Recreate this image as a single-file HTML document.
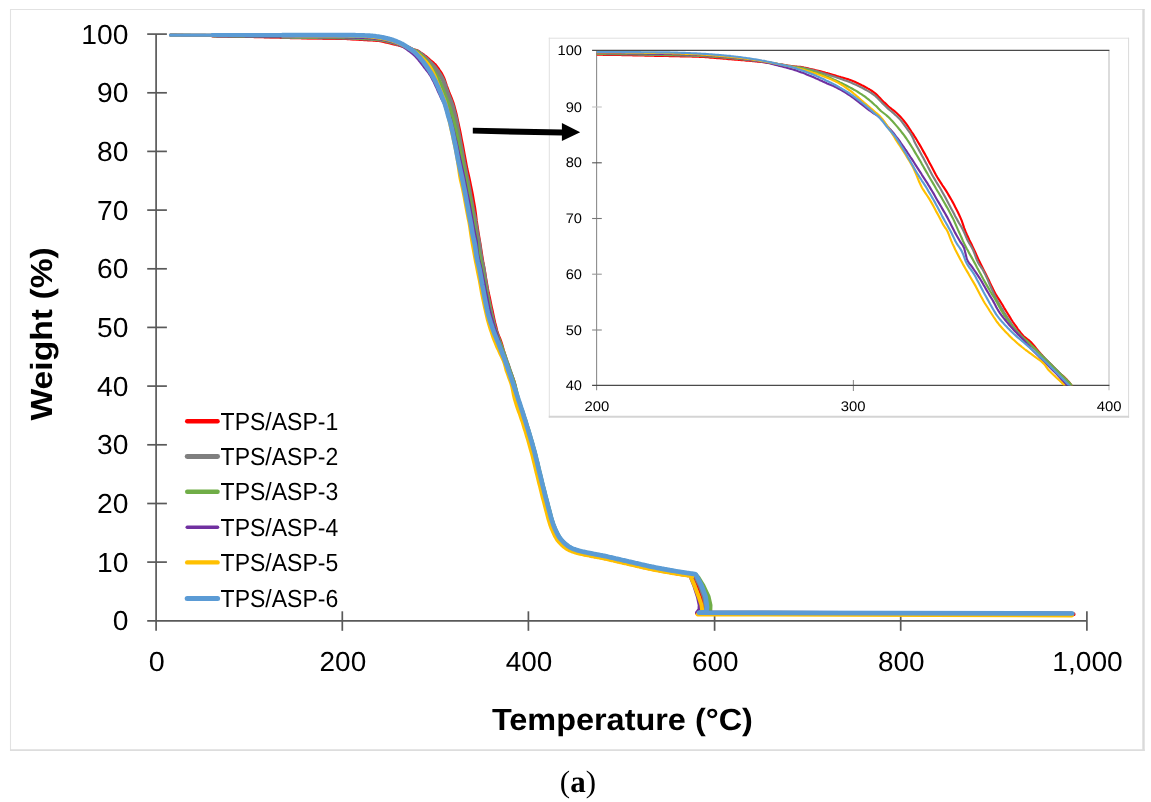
<!DOCTYPE html>
<html><head><meta charset="utf-8"><title>TGA</title>
<style>html,body{margin:0;padding:0;background:#fff;}body{width:1151px;height:802px;overflow:hidden;position:relative;font-family:"Liberation Sans",sans-serif;}</style></head>
<body>
<svg width="1151" height="802" viewBox="0 0 1151 802" text-rendering="geometricPrecision" style="position:absolute;left:0;top:0;display:block;will-change:transform">
<defs><clipPath id="ic"><rect x="596.5" y="50" width="513" height="335.4"/></clipPath></defs>
<rect x="0" y="0" width="1151" height="802" fill="#fff"/>
<line x1="10" y1="9.45" x2="1144.7" y2="9.45" stroke="#E2E2E2" stroke-width="1.1"/>
<line x1="10.5" y1="9" x2="10.5" y2="750.9" stroke="#E2E2E2" stroke-width="1.1"/>
<line x1="1143.5" y1="9" x2="1143.5" y2="750.9" stroke="#DADADA" stroke-width="2.4"/>
<line x1="10" y1="750.05" x2="1144.7" y2="750.05" stroke="#DDDDDD" stroke-width="1.7"/>
<g stroke="#595959" stroke-width="1.7" fill="none">
<line x1="156.1" y1="34.1" x2="156.1" y2="630.8"/>
<line x1="147.2" y1="620.8" x2="1086.9" y2="620.8"/>
<line x1="147.2" y1="562.1" x2="166.9" y2="562.1"/>
<line x1="147.2" y1="503.5" x2="166.9" y2="503.5"/>
<line x1="147.2" y1="444.8" x2="166.9" y2="444.8"/>
<line x1="147.2" y1="386.1" x2="166.9" y2="386.1"/>
<line x1="147.2" y1="327.4" x2="166.9" y2="327.4"/>
<line x1="147.2" y1="268.8" x2="166.9" y2="268.8"/>
<line x1="147.2" y1="210.1" x2="166.9" y2="210.1"/>
<line x1="147.2" y1="151.4" x2="166.9" y2="151.4"/>
<line x1="147.2" y1="92.8" x2="166.9" y2="92.8"/>
<line x1="147.2" y1="34.1" x2="166.9" y2="34.1"/>
<line x1="342.3" y1="611.3" x2="342.3" y2="630.8"/>
<line x1="528.4" y1="611.3" x2="528.4" y2="630.8"/>
<line x1="714.6" y1="611.3" x2="714.6" y2="630.8"/>
<line x1="900.7" y1="611.3" x2="900.7" y2="630.8"/>
<line x1="1086.9" y1="611.3" x2="1086.9" y2="630.8"/>
</g>
<g font-family="'Liberation Sans', sans-serif" font-size="27.5" fill="#000">
<text x="128.4" y="630.3" text-anchor="end" textLength="15.7" lengthAdjust="spacingAndGlyphs">0</text>
<text x="128.4" y="571.6" text-anchor="end" textLength="31.4" lengthAdjust="spacingAndGlyphs">10</text>
<text x="128.4" y="513.0" text-anchor="end" textLength="31.4" lengthAdjust="spacingAndGlyphs">20</text>
<text x="128.4" y="454.3" text-anchor="end" textLength="31.4" lengthAdjust="spacingAndGlyphs">30</text>
<text x="128.4" y="395.6" text-anchor="end" textLength="31.4" lengthAdjust="spacingAndGlyphs">40</text>
<text x="128.4" y="336.9" text-anchor="end" textLength="31.4" lengthAdjust="spacingAndGlyphs">50</text>
<text x="128.4" y="278.3" text-anchor="end" textLength="31.4" lengthAdjust="spacingAndGlyphs">60</text>
<text x="128.4" y="219.6" text-anchor="end" textLength="31.4" lengthAdjust="spacingAndGlyphs">70</text>
<text x="128.4" y="160.9" text-anchor="end" textLength="31.4" lengthAdjust="spacingAndGlyphs">80</text>
<text x="128.4" y="102.3" text-anchor="end" textLength="31.4" lengthAdjust="spacingAndGlyphs">90</text>
<text x="128.4" y="43.6" text-anchor="end" textLength="47.1" lengthAdjust="spacingAndGlyphs">100</text>
<text x="156.7" y="671.3" text-anchor="middle" textLength="16.0" lengthAdjust="spacingAndGlyphs">0</text>
<text x="342.9" y="671.3" text-anchor="middle" textLength="46.6" lengthAdjust="spacingAndGlyphs">200</text>
<text x="529.0" y="671.3" text-anchor="middle" textLength="46.6" lengthAdjust="spacingAndGlyphs">400</text>
<text x="715.2" y="671.3" text-anchor="middle" textLength="46.6" lengthAdjust="spacingAndGlyphs">600</text>
<text x="901.3" y="671.3" text-anchor="middle" textLength="46.6" lengthAdjust="spacingAndGlyphs">800</text>
<text x="1087.5" y="671.3" text-anchor="middle" textLength="70.5" lengthAdjust="spacingAndGlyphs">1,000</text>
</g>
<g font-family="'Liberation Sans', sans-serif" font-weight="bold" font-size="30.6" fill="#000">
<text x="491.9" y="730.3" textLength="261" lengthAdjust="spacingAndGlyphs">Temperature (°C)</text>
<text transform="translate(51.8,420.6) rotate(-90)" x="0" y="0" textLength="173.4" lengthAdjust="spacingAndGlyphs">Weight (%)</text>
</g>
<g fill="none" stroke-linejoin="round" stroke-linecap="round">
<path d="M170.5,35.1 L171.5,35.1 L172.4,35.1 L173.3,35.1 L174.3,35.1 L175.2,35.2 L176.1,35.2 L177.0,35.2 L178.0,35.2 L178.9,35.2 L179.8,35.2 L180.8,35.2 L181.7,35.2 L182.6,35.2 L183.6,35.3 L184.5,35.3 L185.4,35.3 L186.4,35.3 L187.3,35.3 L188.2,35.3 L189.1,35.3 L190.1,35.3 L191.0,35.4 L191.9,35.4 L192.9,35.4 L193.8,35.4 L194.7,35.4 L195.7,35.4 L196.6,35.4 L197.5,35.5 L198.5,35.5 L199.4,35.5 L200.3,35.5 L201.2,35.5 L202.2,35.5 L203.1,35.5 L204.0,35.6 L205.0,35.6 L205.9,35.6 L206.8,35.6 L207.8,35.6 L208.7,35.6 L209.6,35.6 L210.6,35.7 L211.5,35.7 L212.4,35.7 L213.3,35.7 L214.3,35.7 L215.2,35.7 L216.1,35.7 L217.1,35.8 L218.0,35.8 L218.9,35.8 L219.9,35.8 L220.8,35.8 L221.7,35.8 L222.7,35.9 L223.6,35.9 L224.5,35.9 L225.4,35.9 L226.4,35.9 L227.3,35.9 L228.2,36.0 L229.2,36.0 L230.1,36.0 L231.0,36.0 L232.0,36.0 L232.9,36.1 L233.8,36.1 L234.8,36.1 L235.7,36.1 L236.6,36.1 L237.5,36.1 L238.5,36.2 L239.4,36.2 L240.3,36.2 L241.3,36.2 L242.2,36.2 L243.1,36.3 L244.1,36.3 L245.0,36.3 L245.9,36.3 L246.9,36.3 L247.8,36.3 L248.7,36.4 L249.6,36.4 L250.6,36.4 L251.5,36.4 L252.4,36.4 L253.4,36.4 L254.3,36.5 L255.2,36.5 L256.2,36.5 L257.1,36.5 L258.0,36.5 L259.0,36.6 L259.9,36.6 L260.8,36.6 L261.7,36.6 L262.7,36.6 L263.6,36.6 L264.5,36.7 L265.5,36.7 L266.4,36.7 L267.3,36.7 L268.3,36.7 L269.2,36.7 L270.1,36.8 L271.1,36.8 L272.0,36.8 L272.9,36.8 L273.8,36.8 L274.8,36.9 L275.7,36.9 L276.6,36.9 L277.6,36.9 L278.5,36.9 L279.4,36.9 L280.4,37.0 L281.3,37.0" stroke="#FF0000" stroke-width="2.80"/>
<path d="M212.4,35.7 L213.3,35.7 L214.3,35.7 L215.2,35.7 L216.1,35.7 L217.1,35.8 L218.0,35.8 L218.9,35.8 L219.9,35.8 L220.8,35.8 L221.7,35.8 L222.7,35.9 L223.6,35.9 L224.5,35.9 L225.4,35.9 L226.4,35.9 L227.3,35.9 L228.2,36.0 L229.2,36.0 L230.1,36.0 L231.0,36.0 L232.0,36.0 L232.9,36.1 L233.8,36.1 L234.8,36.1 L235.7,36.1 L236.6,36.1 L237.5,36.1 L238.5,36.2 L239.4,36.2 L240.3,36.2 L241.3,36.2 L242.2,36.2 L243.1,36.3 L244.1,36.3 L245.0,36.3 L245.9,36.3 L246.9,36.3 L247.8,36.3 L248.7,36.4 L249.6,36.4 L250.6,36.4 L251.5,36.4 L252.4,36.4 L253.4,36.4 L254.3,36.5 L255.2,36.5 L256.2,36.5 L257.1,36.5 L258.0,36.5 L259.0,36.6 L259.9,36.6 L260.8,36.6 L261.7,36.6 L262.7,36.6 L263.6,36.6 L264.5,36.7 L265.5,36.7 L266.4,36.7 L267.3,36.7 L268.3,36.7 L269.2,36.7 L270.1,36.8 L271.1,36.8 L272.0,36.8 L272.9,36.8 L273.8,36.8 L274.8,36.9 L275.7,36.9 L276.6,36.9 L277.6,36.9 L278.5,36.9 L279.4,36.9 L280.4,37.0 L281.3,37.0 L282.2,37.0 L283.2,37.0 L284.1,37.0 L285.0,37.1 L285.9,37.1 L286.9,37.1 L287.8,37.1 L288.7,37.1 L289.7,37.1 L290.6,37.2 L291.5,37.2 L292.5,37.2 L293.4,37.2 L294.3,37.2 L295.3,37.2 L296.2,37.3 L297.1,37.3 L298.0,37.3 L299.0,37.3 L299.9,37.3 L300.8,37.3 L301.8,37.4 L302.7,37.4 L303.6,37.4 L304.6,37.4 L305.5,37.4 L306.4,37.4 L307.4,37.5 L308.3,37.5 L309.2,37.5 L310.1,37.5 L311.1,37.5 L312.0,37.5 L312.9,37.5 L313.9,37.5 L314.8,37.6 L315.7,37.6 L316.7,37.6 L317.6,37.6 L318.5,37.6 L319.5,37.6 L320.4,37.6 L321.3,37.6 L322.2,37.6 L323.2,37.7 L324.1,37.7 L325.0,37.7 L326.0,37.7 L326.9,37.7 L327.8,37.7 L328.8,37.7 L329.7,37.7 L330.6,37.8 L331.6,37.8 L332.5,37.8 L333.4,37.8 L334.3,37.8 L335.3,37.8 L336.2,37.9 L337.1,37.9 L338.1,37.9 L339.0,37.9 L339.9,37.9 L340.9,38.0 L341.8,38.0 L342.7,38.0 L343.7,38.0 L344.6,38.1 L345.5,38.1 L346.4,38.1 L347.4,38.2 L348.3,38.2 L349.2,38.3 L350.2,38.3 L351.1,38.4 L352.0,38.4 L353.0,38.5 L353.9,38.5 L354.8,38.6 L355.8,38.6" stroke="#FF0000" stroke-width="3.40"/>
<path d="M282.2,37.0 L283.2,37.0 L284.1,37.0 L285.0,37.1 L285.9,37.1 L286.9,37.1 L287.8,37.1 L288.7,37.1 L289.7,37.1 L290.6,37.2 L291.5,37.2 L292.5,37.2 L293.4,37.2 L294.3,37.2 L295.3,37.2 L296.2,37.3 L297.1,37.3 L298.0,37.3 L299.0,37.3 L299.9,37.3 L300.8,37.3 L301.8,37.4 L302.7,37.4 L303.6,37.4 L304.6,37.4 L305.5,37.4 L306.4,37.4 L307.4,37.5 L308.3,37.5 L309.2,37.5 L310.1,37.5 L311.1,37.5 L312.0,37.5 L312.9,37.5 L313.9,37.5 L314.8,37.6 L315.7,37.6 L316.7,37.6 L317.6,37.6 L318.5,37.6 L319.5,37.6 L320.4,37.6 L321.3,37.6 L322.2,37.6 L323.2,37.7 L324.1,37.7 L325.0,37.7 L326.0,37.7 L326.9,37.7 L327.8,37.7 L328.8,37.7 L329.7,37.7 L330.6,37.8 L331.6,37.8 L332.5,37.8 L333.4,37.8 L334.3,37.8 L335.3,37.8 L336.2,37.9 L337.1,37.9 L338.1,37.9 L339.0,37.9 L339.9,37.9 L340.9,38.0 L341.8,38.0 L342.7,38.0 L343.7,38.0 L344.6,38.1 L345.5,38.1 L346.4,38.1 L347.4,38.2 L348.3,38.2 L349.2,38.3 L350.2,38.3 L351.1,38.4 L352.0,38.4 L353.0,38.5 L353.9,38.5 L354.8,38.6 L355.8,38.6 L356.7,38.7 L357.6,38.7 L358.5,38.8 L359.5,38.9 L360.4,38.9 L361.3,39.0 L362.3,39.0 L363.2,39.1 L364.1,39.2 L365.1,39.2 L366.0,39.3 L366.9,39.3 L367.9,39.4 L368.8,39.4 L369.7,39.5 L370.6,39.5 L371.6,39.6 L372.5,39.6 L373.4,39.7 L374.4,39.7 L375.3,39.8 L376.2,39.9 L377.2,39.9 L378.1,40.0 L379.0,40.1 L380.0,40.2 L380.9,40.4 L381.8,40.5 L382.7,40.8 L383.7,41.0 L384.6,41.2 L385.5,41.5 L386.5,41.7 L387.4,41.9 L388.3,42.1 L389.3,42.4 L390.2,42.6 L391.1,42.8 L392.1,43.0 L393.0,43.3 L393.9,43.5 L394.9,43.7 L395.8,43.9 L396.7,44.2 L397.6,44.4 L398.6,44.6 L399.5,44.9 L400.4,45.2 L401.4,45.4 L402.3,45.7 L403.2,46.0 L404.2,46.3 L405.1,46.6 L406.0,46.9 L407.0,47.3 L407.9,47.6 L408.8,48.0 L409.7,48.4 L410.7,48.9 L411.6,49.4 L412.5,49.8 L413.5,50.2 L414.4,50.4 L415.3,50.6 L416.3,50.9 L417.2,51.3 L418.1,51.8 L419.1,52.4 L420.0,53.1 L420.9,53.7 L421.8,54.3 L422.8,54.9 L423.7,55.6 L424.6,56.3 L425.6,57.0 L426.5,57.8 L427.4,58.6 L428.4,59.4 L429.3,60.2 L430.2,61.0 L431.2,61.8 L432.1,62.5 L433.0,63.3 L433.9,64.2 L434.9,65.1 L435.8,66.2 L436.7,67.4 L437.7,68.7 L438.6,70.1 L439.5,71.4 L440.5,72.9 L441.4,74.4 L442.3,76.2 L443.3,78.1 L444.2,80.5 L445.1,83.4 L446.0,86.1 L447.0,88.8 L447.9,91.3 L448.8,93.7 L449.8,95.9 L450.7,98.0 L451.6,100.4 L452.6,103.0 L453.5,106.1 L454.4,109.5 L455.4,113.2 L456.3,117.3 L457.2,121.4 L458.1,125.6 L459.1,130.1 L460.0,134.7 L460.9,139.5 L461.9,144.4 L462.8,149.3 L463.7,154.4 L464.7,159.6 L465.6,164.6 L466.5,169.3 L467.5,173.5 L468.4,177.5 L469.3,181.7 L470.2,186.1 L471.2,190.8 L472.1,195.7 L473.0,201.0 L474.0,206.5 L474.9,212.7 L475.8,220.5 L476.8,227.3 L477.7,233.0 L478.6,238.5 L479.6,244.3 L480.5,250.2 L481.4,256.0 L482.3,261.5 L483.3,266.8 L484.2,272.2 L485.1,277.8 L486.1,283.4 L487.0,288.7 L487.9,293.3 L488.9,297.4 L489.8,301.9 L490.7,306.3 L491.7,310.7 L492.6,315.1 L493.5,319.4 L494.4,323.3 L495.4,327.1 L496.3,330.7 L497.2,333.8 L498.2,336.2 L499.1,338.2 L500.0,340.6 L501.0,343.6 L501.9,346.8 L502.8,350.1 L503.8,353.3 L504.7,356.3 L505.6,359.1 L506.5,361.9 L507.5,364.5 L508.4,367.2 L509.3,369.9 L510.3,372.6 L511.2,375.0 L512.1,377.4 L513.1,380.0 L514.0,383.0 L514.9,386.7 L515.9,392.6 L516.8,397.2 L517.7,400.8 L518.6,403.9 L519.6,406.8 L520.5,409.4 L521.4,411.9 L522.4,414.4 L523.3,416.9 L524.2,419.6 L525.2,422.5 L526.1,425.5 L527.0,428.5 L528.0,431.5 L528.9,434.5 L529.8,437.6 L530.7,440.7 L531.7,443.9 L532.6,447.2 L533.5,450.5 L534.5,454.0 L535.4,457.6 L536.3,461.4 L537.3,465.2 L538.2,469.1 L539.1,473.0 L540.1,476.8 L541.0,480.6 L541.9,484.4 L542.8,488.1 L543.8,491.8 L544.7,495.5 L545.6,499.1 L546.6,502.7 L547.5,506.2 L548.4,509.8 L549.4,513.4 L550.3,517.0 L551.2,520.3 L552.2,523.4 L553.1,526.2 L554.0,528.5 L554.9,530.7 L555.9,532.8 L556.8,534.8 L557.7,536.6 L558.7,538.3 L559.6,539.7 L560.5,541.0 L561.5,542.0 L562.4,543.1 L563.3,544.0 L564.3,544.9 L565.2,545.8 L566.1,546.6 L567.0,547.3 L568.0,548.0 L568.9,548.7 L569.8,549.3 L570.8,549.8 L571.7,550.2 L572.6,550.7 L573.6,551.0 L574.5,551.4 L575.4,551.7 L576.4,552.0 L577.3,552.3 L578.2,552.6 L579.1,552.8 L580.1,553.1 L581.0,553.3 L581.9,553.5 L582.9,553.8 L583.8,554.0 L584.7,554.2 L585.7,554.4 L586.6,554.6 L587.5,554.8 L588.5,554.9 L589.4,555.1 L590.3,555.3 L591.2,555.5 L592.2,555.7 L593.1,555.9 L594.0,556.0 L595.0,556.2 L595.9,556.4 L596.8,556.6 L597.8,556.7 L598.7,556.9 L599.6,557.1 L600.6,557.2 L601.5,557.4 L602.4,557.6 L603.3,557.8 L604.3,558.0 L605.2,558.2 L606.1,558.4 L607.1,558.6 L608.0,558.8 L608.9,559.0 L609.9,559.2 L610.8,559.4 L611.7,559.6 L612.7,559.9 L613.6,560.1 L614.5,560.3 L615.4,560.5 L616.4,560.7 L617.3,560.9 L618.2,561.2 L619.2,561.4 L620.1,561.6 L621.0,561.8 L622.0,562.0 L622.9,562.2 L623.8,562.5 L624.8,562.7 L625.7,562.9 L626.6,563.1 L627.6,563.3 L628.5,563.5 L629.4,563.7 L630.3,563.9 L631.3,564.1 L632.2,564.4 L633.1,564.6 L634.1,564.8 L635.0,565.0 L635.9,565.2 L636.9,565.4 L637.8,565.7 L638.7,565.9 L639.7,566.1 L640.6,566.3 L641.5,566.5 L642.4,566.7 L643.4,567.0 L644.3,567.2 L645.2,567.4 L646.2,567.6 L647.1,567.8 L648.0,568.0 L649.0,568.2 L649.9,568.4 L650.8,568.6 L651.8,568.8 L652.7,569.0 L653.6,569.2 L654.5,569.4 L655.5,569.6 L656.4,569.7 L657.3,569.9 L658.3,570.1 L659.2,570.3 L660.1,570.5 L661.1,570.6 L662.0,570.8 L662.9,571.0 L663.9,571.2 L664.8,571.3 L665.7,571.5 L666.6,571.7 L667.6,571.8 L668.5,572.0 L669.4,572.1 L670.4,572.3 L671.3,572.5 L672.2,572.6 L673.2,572.8 L674.1,572.9 L675.0,573.1 L676.0,573.3 L676.9,573.4 L677.8,573.6 L678.7,573.7 L679.7,573.9 L680.6,574.0 L681.5,574.2 L682.5,574.3 L683.4,574.5 L684.3,574.6 L685.3,574.7 L686.2,574.9 L687.1,575.0 L688.1,575.2 L689.0,575.3 L689.9,575.4 L690.8,575.6 L691.8,575.7 L692.7,575.8 L693.6,576.0 L694.6,576.1 L695.5,576.2 L695.0,577.8 L698.5,585.6 L702.5,596.7 L704.5,605.5 L703.5,611.5 L697.0,613.2 L1073.6,614.2" stroke="#FF0000" stroke-width="4.0"/>
<path d="M170.5,35.1 L171.5,35.1 L172.4,35.1 L173.3,35.1 L174.3,35.1 L175.2,35.1 L176.1,35.1 L177.0,35.2 L178.0,35.2 L178.9,35.2 L179.8,35.2 L180.8,35.2 L181.7,35.2 L182.6,35.2 L183.6,35.2 L184.5,35.2 L185.4,35.2 L186.4,35.2 L187.3,35.3 L188.2,35.3 L189.1,35.3 L190.1,35.3 L191.0,35.3 L191.9,35.3 L192.9,35.3 L193.8,35.3 L194.7,35.3 L195.7,35.3 L196.6,35.4 L197.5,35.4 L198.5,35.4 L199.4,35.4 L200.3,35.4 L201.2,35.4 L202.2,35.4 L203.1,35.4 L204.0,35.4 L205.0,35.4 L205.9,35.5 L206.8,35.5 L207.8,35.5 L208.7,35.5 L209.6,35.5 L210.6,35.5 L211.5,35.5 L212.4,35.5 L213.3,35.5 L214.3,35.6 L215.2,35.6 L216.1,35.6 L217.1,35.6 L218.0,35.6 L218.9,35.6 L219.9,35.6 L220.8,35.6 L221.7,35.7 L222.7,35.7 L223.6,35.7 L224.5,35.7 L225.4,35.7 L226.4,35.7 L227.3,35.7 L228.2,35.7 L229.2,35.8 L230.1,35.8 L231.0,35.8 L232.0,35.8 L232.9,35.8 L233.8,35.8 L234.8,35.8 L235.7,35.8 L236.6,35.9 L237.5,35.9 L238.5,35.9 L239.4,35.9 L240.3,35.9 L241.3,35.9 L242.2,35.9 L243.1,36.0 L244.1,36.0 L245.0,36.0 L245.9,36.0 L246.9,36.0 L247.8,36.0 L248.7,36.0 L249.6,36.1 L250.6,36.1 L251.5,36.1 L252.4,36.1 L253.4,36.1 L254.3,36.1 L255.2,36.1 L256.2,36.1 L257.1,36.2 L258.0,36.2 L259.0,36.2 L259.9,36.2 L260.8,36.2 L261.7,36.2 L262.7,36.2 L263.6,36.2 L264.5,36.3 L265.5,36.3 L266.4,36.3 L267.3,36.3 L268.3,36.3 L269.2,36.3 L270.1,36.3 L271.1,36.4 L272.0,36.4 L272.9,36.4 L273.8,36.4 L274.8,36.4 L275.7,36.4 L276.6,36.4 L277.6,36.4 L278.5,36.5 L279.4,36.5 L280.4,36.5 L281.3,36.5" stroke="#7F7F7F" stroke-width="3.08"/>
<path d="M212.4,35.5 L213.3,35.5 L214.3,35.6 L215.2,35.6 L216.1,35.6 L217.1,35.6 L218.0,35.6 L218.9,35.6 L219.9,35.6 L220.8,35.6 L221.7,35.7 L222.7,35.7 L223.6,35.7 L224.5,35.7 L225.4,35.7 L226.4,35.7 L227.3,35.7 L228.2,35.7 L229.2,35.8 L230.1,35.8 L231.0,35.8 L232.0,35.8 L232.9,35.8 L233.8,35.8 L234.8,35.8 L235.7,35.8 L236.6,35.9 L237.5,35.9 L238.5,35.9 L239.4,35.9 L240.3,35.9 L241.3,35.9 L242.2,35.9 L243.1,36.0 L244.1,36.0 L245.0,36.0 L245.9,36.0 L246.9,36.0 L247.8,36.0 L248.7,36.0 L249.6,36.1 L250.6,36.1 L251.5,36.1 L252.4,36.1 L253.4,36.1 L254.3,36.1 L255.2,36.1 L256.2,36.1 L257.1,36.2 L258.0,36.2 L259.0,36.2 L259.9,36.2 L260.8,36.2 L261.7,36.2 L262.7,36.2 L263.6,36.2 L264.5,36.3 L265.5,36.3 L266.4,36.3 L267.3,36.3 L268.3,36.3 L269.2,36.3 L270.1,36.3 L271.1,36.4 L272.0,36.4 L272.9,36.4 L273.8,36.4 L274.8,36.4 L275.7,36.4 L276.6,36.4 L277.6,36.4 L278.5,36.5 L279.4,36.5 L280.4,36.5 L281.3,36.5 L282.2,36.5 L283.2,36.5 L284.1,36.5 L285.0,36.6 L285.9,36.6 L286.9,36.6 L287.8,36.6 L288.7,36.6 L289.7,36.6 L290.6,36.6 L291.5,36.6 L292.5,36.7 L293.4,36.7 L294.3,36.7 L295.3,36.7 L296.2,36.7 L297.1,36.7 L298.0,36.7 L299.0,36.7 L299.9,36.8 L300.8,36.8 L301.8,36.8 L302.7,36.8 L303.6,36.8 L304.6,36.8 L305.5,36.8 L306.4,36.8 L307.4,36.9 L308.3,36.9 L309.2,36.9 L310.1,36.9 L311.1,36.9 L312.0,36.9 L312.9,36.9 L313.9,36.9 L314.8,36.9 L315.7,36.9 L316.7,36.9 L317.6,37.0 L318.5,37.0 L319.5,37.0 L320.4,37.0 L321.3,37.0 L322.2,37.0 L323.2,37.0 L324.1,37.0 L325.0,37.0 L326.0,37.0 L326.9,37.0 L327.8,37.1 L328.8,37.1 L329.7,37.1 L330.6,37.1 L331.6,37.1 L332.5,37.1 L333.4,37.1 L334.3,37.1 L335.3,37.1 L336.2,37.2 L337.1,37.2 L338.1,37.2 L339.0,37.2 L339.9,37.2 L340.9,37.2 L341.8,37.2 L342.7,37.3 L343.7,37.3 L344.6,37.3 L345.5,37.3 L346.4,37.4 L347.4,37.4 L348.3,37.4 L349.2,37.5 L350.2,37.5 L351.1,37.5 L352.0,37.6 L353.0,37.6 L353.9,37.7 L354.8,37.7 L355.8,37.8" stroke="#7F7F7F" stroke-width="3.74"/>
<path d="M282.2,36.5 L283.2,36.5 L284.1,36.5 L285.0,36.6 L285.9,36.6 L286.9,36.6 L287.8,36.6 L288.7,36.6 L289.7,36.6 L290.6,36.6 L291.5,36.6 L292.5,36.7 L293.4,36.7 L294.3,36.7 L295.3,36.7 L296.2,36.7 L297.1,36.7 L298.0,36.7 L299.0,36.7 L299.9,36.8 L300.8,36.8 L301.8,36.8 L302.7,36.8 L303.6,36.8 L304.6,36.8 L305.5,36.8 L306.4,36.8 L307.4,36.9 L308.3,36.9 L309.2,36.9 L310.1,36.9 L311.1,36.9 L312.0,36.9 L312.9,36.9 L313.9,36.9 L314.8,36.9 L315.7,36.9 L316.7,36.9 L317.6,37.0 L318.5,37.0 L319.5,37.0 L320.4,37.0 L321.3,37.0 L322.2,37.0 L323.2,37.0 L324.1,37.0 L325.0,37.0 L326.0,37.0 L326.9,37.0 L327.8,37.1 L328.8,37.1 L329.7,37.1 L330.6,37.1 L331.6,37.1 L332.5,37.1 L333.4,37.1 L334.3,37.1 L335.3,37.1 L336.2,37.2 L337.1,37.2 L338.1,37.2 L339.0,37.2 L339.9,37.2 L340.9,37.2 L341.8,37.2 L342.7,37.3 L343.7,37.3 L344.6,37.3 L345.5,37.3 L346.4,37.4 L347.4,37.4 L348.3,37.4 L349.2,37.5 L350.2,37.5 L351.1,37.5 L352.0,37.6 L353.0,37.6 L353.9,37.7 L354.8,37.7 L355.8,37.8 L356.7,37.8 L357.6,37.9 L358.5,37.9 L359.5,38.0 L360.4,38.0 L361.3,38.1 L362.3,38.1 L363.2,38.2 L364.1,38.2 L365.1,38.3 L366.0,38.3 L366.9,38.4 L367.9,38.4 L368.8,38.5 L369.7,38.5 L370.6,38.6 L371.6,38.7 L372.5,38.7 L373.4,38.8 L374.4,38.9 L375.3,38.9 L376.2,39.0 L377.2,39.1 L378.1,39.2 L379.0,39.3 L380.0,39.4 L380.9,39.5 L381.8,39.6 L382.7,39.8 L383.7,40.0 L384.6,40.2 L385.5,40.4 L386.5,40.6 L387.4,40.8 L388.3,41.1 L389.3,41.3 L390.2,41.5 L391.1,41.8 L392.1,42.0 L393.0,42.2 L393.9,42.5 L394.9,42.8 L395.8,43.0 L396.7,43.3 L397.6,43.6 L398.6,43.9 L399.5,44.2 L400.4,44.5 L401.4,44.8 L402.3,45.1 L403.2,45.5 L404.2,45.9 L405.1,46.3 L406.0,46.7 L407.0,47.2 L407.9,47.6 L408.8,48.1 L409.7,48.6 L410.7,49.1 L411.6,49.6 L412.5,50.0 L413.5,50.5 L414.4,50.8 L415.3,51.0 L416.3,51.3 L417.2,51.7 L418.1,52.3 L419.1,52.9 L420.0,53.6 L420.9,54.2 L421.8,55.0 L422.8,55.8 L423.7,56.6 L424.6,57.5 L425.6,58.3 L426.5,59.1 L427.4,60.0 L428.4,60.9 L429.3,61.7 L430.2,62.7 L431.2,63.6 L432.1,64.5 L433.0,65.5 L433.9,66.5 L434.9,67.6 L435.8,68.8 L436.7,70.0 L437.7,71.3 L438.6,72.7 L439.5,74.1 L440.5,75.5 L441.4,77.1 L442.3,78.8 L443.3,80.7 L444.2,83.1 L445.1,86.0 L446.0,88.8 L447.0,91.4 L447.9,94.0 L448.8,96.5 L449.8,98.8 L450.7,101.1 L451.6,103.5 L452.6,106.3 L453.5,109.7 L454.4,113.4 L455.4,117.1 L456.3,120.9 L457.2,125.9 L458.1,131.8 L459.1,136.8 L460.0,141.7 L460.9,146.5 L461.9,151.7 L462.8,156.8 L463.7,162.0 L464.7,166.9 L465.6,171.5 L466.5,175.9 L467.5,180.4 L468.4,185.1 L469.3,190.2 L470.2,195.3 L471.2,200.4 L472.1,205.5 L473.0,210.5 L474.0,215.3 L474.9,219.8 L475.8,225.1 L476.8,231.7 L477.7,236.7 L478.6,241.2 L479.6,247.5 L480.5,254.5 L481.4,259.5 L482.3,263.4 L483.3,268.2 L484.2,274.1 L485.1,280.2 L486.1,286.4 L487.0,292.3 L487.9,297.4 L488.9,302.1 L489.8,306.7 L490.7,311.1 L491.7,315.3 L492.6,319.3 L493.5,323.2 L494.4,326.8 L495.4,330.0 L496.3,333.0 L497.2,335.8 L498.2,338.6 L499.1,341.3 L500.0,343.8 L501.0,346.3 L501.9,348.8 L502.8,351.3 L503.8,353.8 L504.7,356.4 L505.6,359.0 L506.5,361.7 L507.5,364.3 L508.4,366.9 L509.3,369.6 L510.3,372.4 L511.2,375.2 L512.1,378.2 L513.1,381.3 L514.0,384.5 L514.9,388.1 L515.9,392.2 L516.8,395.7 L517.7,398.9 L518.6,401.9 L519.6,404.7 L520.5,407.5 L521.4,410.2 L522.4,412.8 L523.3,415.6 L524.2,418.4 L525.2,421.3 L526.1,424.3 L527.0,427.3 L528.0,430.3 L528.9,433.3 L529.8,436.4 L530.7,439.5 L531.7,442.7 L532.6,446.0 L533.5,449.3 L534.5,452.8 L535.4,456.4 L536.3,460.2 L537.3,464.0 L538.2,467.9 L539.1,471.8 L540.1,475.7 L541.0,479.5 L541.9,483.2 L542.8,486.9 L543.8,490.6 L544.7,494.3 L545.6,498.0 L546.6,501.5 L547.5,505.0 L548.4,508.6 L549.4,512.2 L550.3,515.8 L551.2,519.2 L552.2,522.3 L553.1,525.0 L554.0,527.3 L554.9,529.6 L555.9,531.7 L556.8,533.6 L557.7,535.4 L558.7,537.1 L559.6,538.5 L560.5,539.8 L561.5,540.9 L562.4,541.9 L563.3,542.9 L564.3,543.8 L565.2,544.6 L566.1,545.4 L567.0,546.2 L568.0,546.9 L568.9,547.5 L569.8,548.1 L570.8,548.6 L571.7,549.1 L572.6,549.5 L573.6,549.8 L574.5,550.2 L575.4,550.5 L576.4,550.8 L577.3,551.1 L578.2,551.4 L579.1,551.7 L580.1,551.9 L581.0,552.1 L581.9,552.4 L582.9,552.6 L583.8,552.8 L584.7,553.0 L585.7,553.2 L586.6,553.4 L587.5,553.6 L588.5,553.8 L589.4,553.9 L590.3,554.1 L591.2,554.3 L592.2,554.5 L593.1,554.7 L594.0,554.9 L595.0,555.1 L595.9,555.2 L596.8,555.4 L597.8,555.5 L598.7,555.7 L599.6,555.9 L600.6,556.1 L601.5,556.2 L602.4,556.4 L603.3,556.6 L604.3,556.8 L605.2,557.0 L606.1,557.2 L607.1,557.4 L608.0,557.6 L608.9,557.8 L609.9,558.1 L610.8,558.3 L611.7,558.5 L612.7,558.7 L613.6,558.9 L614.5,559.1 L615.4,559.3 L616.4,559.5 L617.3,559.8 L618.2,560.0 L619.2,560.2 L620.1,560.4 L621.0,560.6 L622.0,560.8 L622.9,561.1 L623.8,561.3 L624.8,561.5 L625.7,561.7 L626.6,561.9 L627.6,562.1 L628.5,562.3 L629.4,562.5 L630.3,562.8 L631.3,563.0 L632.2,563.2 L633.1,563.4 L634.1,563.6 L635.0,563.8 L635.9,564.1 L636.9,564.3 L637.8,564.5 L638.7,564.7 L639.7,564.9 L640.6,565.1 L641.5,565.4 L642.4,565.6 L643.4,565.8 L644.3,566.0 L645.2,566.2 L646.2,566.4 L647.1,566.6 L648.0,566.8 L649.0,567.0 L649.9,567.2 L650.8,567.4 L651.8,567.6 L652.7,567.8 L653.6,568.0 L654.5,568.2 L655.5,568.4 L656.4,568.6 L657.3,568.8 L658.3,568.9 L659.2,569.1 L660.1,569.3 L661.1,569.5 L662.0,569.6 L662.9,569.8 L663.9,570.0 L664.8,570.1 L665.7,570.3 L666.6,570.5 L667.6,570.6 L668.5,570.8 L669.4,571.0 L670.4,571.1 L671.3,571.3 L672.2,571.5 L673.2,571.6 L674.1,571.8 L675.0,571.9 L676.0,572.1 L676.9,572.2 L677.8,572.4 L678.7,572.5 L679.7,572.7 L680.6,572.8 L681.5,573.0 L682.5,573.1 L683.4,573.3 L684.3,573.4 L685.3,573.6 L686.2,573.7 L687.1,573.8 L688.1,574.0 L689.0,574.1 L689.9,574.3 L690.8,574.4 L691.8,574.5 L692.7,574.6 L693.6,574.8 L694.6,574.9 L695.5,575.0 L696.0,577.5 L700.0,585.6 L704.0,596.7 L705.8,606.0 L705.0,611.7 L698.0,613.0 L1072.4,614.0" stroke="#7F7F7F" stroke-width="4.4"/>
<path d="M170.5,35.1 L171.5,35.1 L172.4,35.1 L173.3,35.1 L174.3,35.1 L175.2,35.1 L176.1,35.1 L177.0,35.1 L178.0,35.2 L178.9,35.2 L179.8,35.2 L180.8,35.2 L181.7,35.2 L182.6,35.2 L183.6,35.2 L184.5,35.2 L185.4,35.2 L186.4,35.2 L187.3,35.2 L188.2,35.2 L189.1,35.2 L190.1,35.2 L191.0,35.3 L191.9,35.3 L192.9,35.3 L193.8,35.3 L194.7,35.3 L195.7,35.3 L196.6,35.3 L197.5,35.3 L198.5,35.3 L199.4,35.3 L200.3,35.3 L201.2,35.3 L202.2,35.4 L203.1,35.4 L204.0,35.4 L205.0,35.4 L205.9,35.4 L206.8,35.4 L207.8,35.4 L208.7,35.4 L209.6,35.4 L210.6,35.4 L211.5,35.4 L212.4,35.4 L213.3,35.5 L214.3,35.5 L215.2,35.5 L216.1,35.5 L217.1,35.5 L218.0,35.5 L218.9,35.5 L219.9,35.5 L220.8,35.5 L221.7,35.5 L222.7,35.6 L223.6,35.6 L224.5,35.6 L225.4,35.6 L226.4,35.6 L227.3,35.6 L228.2,35.6 L229.2,35.6 L230.1,35.6 L231.0,35.6 L232.0,35.7 L232.9,35.7 L233.8,35.7 L234.8,35.7 L235.7,35.7 L236.6,35.7 L237.5,35.7 L238.5,35.7 L239.4,35.7 L240.3,35.8 L241.3,35.8 L242.2,35.8 L243.1,35.8 L244.1,35.8 L245.0,35.8 L245.9,35.8 L246.9,35.8 L247.8,35.8 L248.7,35.9 L249.6,35.9 L250.6,35.9 L251.5,35.9 L252.4,35.9 L253.4,35.9 L254.3,35.9 L255.2,35.9 L256.2,35.9 L257.1,36.0 L258.0,36.0 L259.0,36.0 L259.9,36.0 L260.8,36.0 L261.7,36.0 L262.7,36.0 L263.6,36.0 L264.5,36.0 L265.5,36.0 L266.4,36.1 L267.3,36.1 L268.3,36.1 L269.2,36.1 L270.1,36.1 L271.1,36.1 L272.0,36.1 L272.9,36.1 L273.8,36.1 L274.8,36.2 L275.7,36.2 L276.6,36.2 L277.6,36.2 L278.5,36.2 L279.4,36.2 L280.4,36.2 L281.3,36.2" stroke="#70AD47" stroke-width="2.80"/>
<path d="M212.4,35.4 L213.3,35.5 L214.3,35.5 L215.2,35.5 L216.1,35.5 L217.1,35.5 L218.0,35.5 L218.9,35.5 L219.9,35.5 L220.8,35.5 L221.7,35.5 L222.7,35.6 L223.6,35.6 L224.5,35.6 L225.4,35.6 L226.4,35.6 L227.3,35.6 L228.2,35.6 L229.2,35.6 L230.1,35.6 L231.0,35.6 L232.0,35.7 L232.9,35.7 L233.8,35.7 L234.8,35.7 L235.7,35.7 L236.6,35.7 L237.5,35.7 L238.5,35.7 L239.4,35.7 L240.3,35.8 L241.3,35.8 L242.2,35.8 L243.1,35.8 L244.1,35.8 L245.0,35.8 L245.9,35.8 L246.9,35.8 L247.8,35.8 L248.7,35.9 L249.6,35.9 L250.6,35.9 L251.5,35.9 L252.4,35.9 L253.4,35.9 L254.3,35.9 L255.2,35.9 L256.2,35.9 L257.1,36.0 L258.0,36.0 L259.0,36.0 L259.9,36.0 L260.8,36.0 L261.7,36.0 L262.7,36.0 L263.6,36.0 L264.5,36.0 L265.5,36.0 L266.4,36.1 L267.3,36.1 L268.3,36.1 L269.2,36.1 L270.1,36.1 L271.1,36.1 L272.0,36.1 L272.9,36.1 L273.8,36.1 L274.8,36.2 L275.7,36.2 L276.6,36.2 L277.6,36.2 L278.5,36.2 L279.4,36.2 L280.4,36.2 L281.3,36.2 L282.2,36.2 L283.2,36.3 L284.1,36.3 L285.0,36.3 L285.9,36.3 L286.9,36.3 L287.8,36.3 L288.7,36.3 L289.7,36.3 L290.6,36.3 L291.5,36.3 L292.5,36.4 L293.4,36.4 L294.3,36.4 L295.3,36.4 L296.2,36.4 L297.1,36.4 L298.0,36.4 L299.0,36.4 L299.9,36.4 L300.8,36.4 L301.8,36.5 L302.7,36.5 L303.6,36.5 L304.6,36.5 L305.5,36.5 L306.4,36.5 L307.4,36.5 L308.3,36.5 L309.2,36.5 L310.1,36.5 L311.1,36.5 L312.0,36.6 L312.9,36.6 L313.9,36.6 L314.8,36.6 L315.7,36.6 L316.7,36.6 L317.6,36.6 L318.5,36.6 L319.5,36.6 L320.4,36.6 L321.3,36.6 L322.2,36.6 L323.2,36.6 L324.1,36.6 L325.0,36.6 L326.0,36.7 L326.9,36.7 L327.8,36.7 L328.8,36.7 L329.7,36.7 L330.6,36.7 L331.6,36.7 L332.5,36.7 L333.4,36.7 L334.3,36.7 L335.3,36.7 L336.2,36.7 L337.1,36.8 L338.1,36.8 L339.0,36.8 L339.9,36.8 L340.9,36.8 L341.8,36.8 L342.7,36.8 L343.7,36.9 L344.6,36.9 L345.5,36.9 L346.4,36.9 L347.4,37.0 L348.3,37.0 L349.2,37.0 L350.2,37.1 L351.1,37.1 L352.0,37.1 L353.0,37.2 L353.9,37.2 L354.8,37.3 L355.8,37.3" stroke="#70AD47" stroke-width="3.40"/>
<path d="M282.2,36.2 L283.2,36.3 L284.1,36.3 L285.0,36.3 L285.9,36.3 L286.9,36.3 L287.8,36.3 L288.7,36.3 L289.7,36.3 L290.6,36.3 L291.5,36.3 L292.5,36.4 L293.4,36.4 L294.3,36.4 L295.3,36.4 L296.2,36.4 L297.1,36.4 L298.0,36.4 L299.0,36.4 L299.9,36.4 L300.8,36.4 L301.8,36.5 L302.7,36.5 L303.6,36.5 L304.6,36.5 L305.5,36.5 L306.4,36.5 L307.4,36.5 L308.3,36.5 L309.2,36.5 L310.1,36.5 L311.1,36.5 L312.0,36.6 L312.9,36.6 L313.9,36.6 L314.8,36.6 L315.7,36.6 L316.7,36.6 L317.6,36.6 L318.5,36.6 L319.5,36.6 L320.4,36.6 L321.3,36.6 L322.2,36.6 L323.2,36.6 L324.1,36.6 L325.0,36.6 L326.0,36.7 L326.9,36.7 L327.8,36.7 L328.8,36.7 L329.7,36.7 L330.6,36.7 L331.6,36.7 L332.5,36.7 L333.4,36.7 L334.3,36.7 L335.3,36.7 L336.2,36.7 L337.1,36.8 L338.1,36.8 L339.0,36.8 L339.9,36.8 L340.9,36.8 L341.8,36.8 L342.7,36.8 L343.7,36.9 L344.6,36.9 L345.5,36.9 L346.4,36.9 L347.4,37.0 L348.3,37.0 L349.2,37.0 L350.2,37.1 L351.1,37.1 L352.0,37.1 L353.0,37.2 L353.9,37.2 L354.8,37.3 L355.8,37.3 L356.7,37.4 L357.6,37.4 L358.5,37.5 L359.5,37.5 L360.4,37.6 L361.3,37.6 L362.3,37.7 L363.2,37.7 L364.1,37.8 L365.1,37.9 L366.0,37.9 L366.9,38.0 L367.9,38.0 L368.8,38.1 L369.7,38.1 L370.6,38.2 L371.6,38.2 L372.5,38.3 L373.4,38.4 L374.4,38.4 L375.3,38.5 L376.2,38.6 L377.2,38.7 L378.1,38.8 L379.0,38.9 L380.0,39.0 L380.9,39.1 L381.8,39.2 L382.7,39.4 L383.7,39.6 L384.6,39.8 L385.5,40.0 L386.5,40.2 L387.4,40.5 L388.3,40.7 L389.3,40.9 L390.2,41.2 L391.1,41.4 L392.1,41.7 L393.0,41.9 L393.9,42.2 L394.9,42.5 L395.8,42.8 L396.7,43.1 L397.6,43.4 L398.6,43.7 L399.5,44.0 L400.4,44.3 L401.4,44.7 L402.3,45.0 L403.2,45.4 L404.2,45.9 L405.1,46.3 L406.0,46.8 L407.0,47.3 L407.9,47.8 L408.8,48.3 L409.7,48.8 L410.7,49.3 L411.6,49.7 L412.5,50.2 L413.5,50.6 L414.4,51.0 L415.3,51.3 L416.3,51.7 L417.2,52.3 L418.1,53.0 L419.1,53.8 L420.0,54.7 L420.9,55.5 L421.8,56.4 L422.8,57.3 L423.7,58.3 L424.6,59.3 L425.6,60.4 L426.5,61.5 L427.4,62.7 L428.4,64.0 L429.3,65.2 L430.2,66.5 L431.2,67.8 L432.1,69.1 L433.0,70.5 L433.9,71.9 L434.9,73.3 L435.8,74.8 L436.7,76.4 L437.7,78.1 L438.6,79.8 L439.5,81.7 L440.5,83.8 L441.4,85.9 L442.3,88.2 L443.3,90.6 L444.2,93.2 L445.1,95.9 L446.0,98.4 L447.0,100.4 L447.9,102.7 L448.8,105.3 L449.8,108.1 L450.7,111.1 L451.6,114.3 L452.6,117.5 L453.5,120.9 L454.4,124.6 L455.4,128.5 L456.3,132.6 L457.2,137.0 L458.1,141.5 L459.1,146.1 L460.0,150.8 L460.9,155.5 L461.9,160.3 L462.8,165.0 L463.7,169.6 L464.7,174.2 L465.6,178.8 L466.5,183.4 L467.5,187.9 L468.4,192.6 L469.3,197.3 L470.2,202.2 L471.2,207.2 L472.1,212.6 L473.0,218.7 L474.0,224.9 L474.9,231.0 L475.8,236.9 L476.8,242.2 L477.7,247.1 L478.6,252.0 L479.6,256.9 L480.5,262.0 L481.4,267.0 L482.3,272.0 L483.3,276.8 L484.2,281.6 L485.1,286.3 L486.1,290.9 L487.0,295.1 L487.9,299.9 L488.9,305.0 L489.8,309.7 L490.7,313.8 L491.7,317.7 L492.6,321.3 L493.5,324.7 L494.4,327.9 L495.4,331.0 L496.3,333.7 L497.2,336.0 L498.2,338.2 L499.1,340.5 L500.0,343.0 L501.0,345.7 L501.9,348.4 L502.8,351.2 L503.8,354.0 L504.7,356.7 L505.6,359.4 L506.5,362.1 L507.5,364.8 L508.4,367.4 L509.3,370.1 L510.3,372.8 L511.2,375.3 L512.1,377.8 L513.1,380.4 L514.0,383.2 L514.9,386.3 L515.9,390.3 L516.8,394.1 L517.7,397.4 L518.6,400.4 L519.6,403.3 L520.5,406.1 L521.4,408.8 L522.4,411.5 L523.3,414.2 L524.2,416.9 L525.2,419.9 L526.1,422.8 L527.0,425.8 L528.0,428.8 L528.9,431.8 L529.8,434.9 L530.7,438.0 L531.7,441.2 L532.6,444.4 L533.5,447.7 L534.5,451.2 L535.4,454.7 L536.3,458.5 L537.3,462.3 L538.2,466.2 L539.1,470.0 L540.1,473.9 L541.0,477.7 L541.9,481.5 L542.8,485.2 L543.8,488.9 L544.7,492.6 L545.6,496.3 L546.6,499.9 L547.5,503.4 L548.4,506.9 L549.4,510.6 L550.3,514.1 L551.2,517.6 L552.2,520.8 L553.1,523.6 L554.0,526.0 L554.9,528.3 L555.9,530.5 L556.8,532.5 L557.7,534.3 L558.7,536.0 L559.6,537.5 L560.5,538.9 L561.5,540.0 L562.4,541.0 L563.3,542.0 L564.3,542.9 L565.2,543.8 L566.1,544.6 L567.0,545.4 L568.0,546.1 L568.9,546.7 L569.8,547.3 L570.8,547.9 L571.7,548.3 L572.6,548.8 L573.6,549.1 L574.5,549.5 L575.4,549.8 L576.4,550.1 L577.3,550.4 L578.2,550.7 L579.1,551.0 L580.1,551.2 L581.0,551.5 L581.9,551.7 L582.9,551.9 L583.8,552.2 L584.7,552.4 L585.7,552.6 L586.6,552.7 L587.5,552.9 L588.5,553.1 L589.4,553.3 L590.3,553.5 L591.2,553.7 L592.2,553.9 L593.1,554.0 L594.0,554.2 L595.0,554.4 L595.9,554.6 L596.8,554.7 L597.8,554.9 L598.7,555.1 L599.6,555.2 L600.6,555.4 L601.5,555.6 L602.4,555.8 L603.3,556.0 L604.3,556.2 L605.2,556.4 L606.1,556.6 L607.1,556.8 L608.0,557.0 L608.9,557.2 L609.9,557.4 L610.8,557.6 L611.7,557.8 L612.7,558.0 L613.6,558.2 L614.5,558.5 L615.4,558.7 L616.4,558.9 L617.3,559.1 L618.2,559.3 L619.2,559.5 L620.1,559.8 L621.0,560.0 L622.0,560.2 L622.9,560.4 L623.8,560.6 L624.8,560.8 L625.7,561.1 L626.6,561.3 L627.6,561.5 L628.5,561.7 L629.4,561.9 L630.3,562.1 L631.3,562.3 L632.2,562.5 L633.1,562.7 L634.1,563.0 L635.0,563.2 L635.9,563.4 L636.9,563.6 L637.8,563.8 L638.7,564.1 L639.7,564.3 L640.6,564.5 L641.5,564.7 L642.4,564.9 L643.4,565.1 L644.3,565.3 L645.2,565.6 L646.2,565.8 L647.1,566.0 L648.0,566.2 L649.0,566.4 L649.9,566.6 L650.8,566.8 L651.8,567.0 L652.7,567.2 L653.6,567.4 L654.5,567.6 L655.5,567.7 L656.4,567.9 L657.3,568.1 L658.3,568.3 L659.2,568.5 L660.1,568.6 L661.1,568.8 L662.0,569.0 L662.9,569.2 L663.9,569.3 L664.8,569.5 L665.7,569.7 L666.6,569.8 L667.6,570.0 L668.5,570.2 L669.4,570.3 L670.4,570.5 L671.3,570.7 L672.2,570.8 L673.2,571.0 L674.1,571.1 L675.0,571.3 L676.0,571.4 L676.9,571.6 L677.8,571.8 L678.7,571.9 L679.7,572.1 L680.6,572.2 L681.5,572.4 L682.5,572.5 L683.4,572.6 L684.3,572.8 L685.3,572.9 L686.2,573.1 L687.1,573.2 L688.1,573.4 L689.0,573.5 L689.9,573.6 L690.8,573.8 L691.8,573.9 L692.7,574.0 L693.6,574.2 L694.6,574.3 L695.5,574.4 L698.3,577.3 L703.4,585.6 L708.6,596.7 L710.5,605.1 L710.3,611.0 L700.0,612.6 L1072.0,613.8" stroke="#70AD47" stroke-width="4.0"/>
<path d="M170.5,35.1 L171.5,35.1 L172.4,35.1 L173.3,35.1 L174.3,35.1 L175.2,35.1 L176.1,35.1 L177.0,35.1 L178.0,35.1 L178.9,35.1 L179.8,35.1 L180.8,35.1 L181.7,35.2 L182.6,35.2 L183.6,35.2 L184.5,35.2 L185.4,35.2 L186.4,35.2 L187.3,35.2 L188.2,35.2 L189.1,35.2 L190.1,35.2 L191.0,35.2 L191.9,35.2 L192.9,35.2 L193.8,35.2 L194.7,35.2 L195.7,35.2 L196.6,35.2 L197.5,35.2 L198.5,35.2 L199.4,35.2 L200.3,35.3 L201.2,35.3 L202.2,35.3 L203.1,35.3 L204.0,35.3 L205.0,35.3 L205.9,35.3 L206.8,35.3 L207.8,35.3 L208.7,35.3 L209.6,35.3 L210.6,35.3 L211.5,35.3 L212.4,35.3 L213.3,35.3 L214.3,35.3 L215.2,35.3 L216.1,35.3 L217.1,35.4 L218.0,35.4 L218.9,35.4 L219.9,35.4 L220.8,35.4 L221.7,35.4 L222.7,35.4 L223.6,35.4 L224.5,35.4 L225.4,35.4 L226.4,35.4 L227.3,35.4 L228.2,35.4 L229.2,35.4 L230.1,35.4 L231.0,35.4 L232.0,35.5 L232.9,35.5 L233.8,35.5 L234.8,35.5 L235.7,35.5 L236.6,35.5 L237.5,35.5 L238.5,35.5 L239.4,35.5 L240.3,35.5 L241.3,35.5 L242.2,35.5 L243.1,35.5 L244.1,35.5 L245.0,35.6 L245.9,35.6 L246.9,35.6 L247.8,35.6 L248.7,35.6 L249.6,35.6 L250.6,35.6 L251.5,35.6 L252.4,35.6 L253.4,35.6 L254.3,35.6 L255.2,35.6 L256.2,35.6 L257.1,35.6 L258.0,35.6 L259.0,35.7 L259.9,35.7 L260.8,35.7 L261.7,35.7 L262.7,35.7 L263.6,35.7 L264.5,35.7 L265.5,35.7 L266.4,35.7 L267.3,35.7 L268.3,35.7 L269.2,35.7 L270.1,35.7 L271.1,35.7 L272.0,35.7 L272.9,35.8 L273.8,35.8 L274.8,35.8 L275.7,35.8 L276.6,35.8 L277.6,35.8 L278.5,35.8 L279.4,35.8 L280.4,35.8 L281.3,35.8" stroke="#7030A0" stroke-width="2.94"/>
<path d="M212.4,35.3 L213.3,35.3 L214.3,35.3 L215.2,35.3 L216.1,35.3 L217.1,35.4 L218.0,35.4 L218.9,35.4 L219.9,35.4 L220.8,35.4 L221.7,35.4 L222.7,35.4 L223.6,35.4 L224.5,35.4 L225.4,35.4 L226.4,35.4 L227.3,35.4 L228.2,35.4 L229.2,35.4 L230.1,35.4 L231.0,35.4 L232.0,35.5 L232.9,35.5 L233.8,35.5 L234.8,35.5 L235.7,35.5 L236.6,35.5 L237.5,35.5 L238.5,35.5 L239.4,35.5 L240.3,35.5 L241.3,35.5 L242.2,35.5 L243.1,35.5 L244.1,35.5 L245.0,35.6 L245.9,35.6 L246.9,35.6 L247.8,35.6 L248.7,35.6 L249.6,35.6 L250.6,35.6 L251.5,35.6 L252.4,35.6 L253.4,35.6 L254.3,35.6 L255.2,35.6 L256.2,35.6 L257.1,35.6 L258.0,35.6 L259.0,35.7 L259.9,35.7 L260.8,35.7 L261.7,35.7 L262.7,35.7 L263.6,35.7 L264.5,35.7 L265.5,35.7 L266.4,35.7 L267.3,35.7 L268.3,35.7 L269.2,35.7 L270.1,35.7 L271.1,35.7 L272.0,35.7 L272.9,35.8 L273.8,35.8 L274.8,35.8 L275.7,35.8 L276.6,35.8 L277.6,35.8 L278.5,35.8 L279.4,35.8 L280.4,35.8 L281.3,35.8 L282.2,35.8 L283.2,35.8 L284.1,35.8 L285.0,35.8 L285.9,35.9 L286.9,35.9 L287.8,35.9 L288.7,35.9 L289.7,35.9 L290.6,35.9 L291.5,35.9 L292.5,35.9 L293.4,35.9 L294.3,35.9 L295.3,35.9 L296.2,35.9 L297.1,35.9 L298.0,35.9 L299.0,35.9 L299.9,36.0 L300.8,36.0 L301.8,36.0 L302.7,36.0 L303.6,36.0 L304.6,36.0 L305.5,36.0 L306.4,36.0 L307.4,36.0 L308.3,36.0 L309.2,36.0 L310.1,36.0 L311.1,36.0 L312.0,36.0 L312.9,36.0 L313.9,36.0 L314.8,36.0 L315.7,36.0 L316.7,36.0 L317.6,36.0 L318.5,36.1 L319.5,36.1 L320.4,36.1 L321.3,36.1 L322.2,36.1 L323.2,36.1 L324.1,36.1 L325.0,36.1 L326.0,36.1 L326.9,36.1 L327.8,36.1 L328.8,36.1 L329.7,36.1 L330.6,36.1 L331.6,36.1 L332.5,36.1 L333.4,36.1 L334.3,36.1 L335.3,36.1 L336.2,36.1 L337.1,36.2 L338.1,36.2 L339.0,36.2 L339.9,36.2 L340.9,36.2 L341.8,36.2 L342.7,36.2 L343.7,36.2 L344.6,36.2 L345.5,36.3 L346.4,36.3 L347.4,36.3 L348.3,36.3 L349.2,36.3 L350.2,36.4 L351.1,36.4 L352.0,36.4 L353.0,36.5 L353.9,36.5 L354.8,36.5 L355.8,36.6" stroke="#7030A0" stroke-width="3.57"/>
<path d="M282.2,35.8 L283.2,35.8 L284.1,35.8 L285.0,35.8 L285.9,35.9 L286.9,35.9 L287.8,35.9 L288.7,35.9 L289.7,35.9 L290.6,35.9 L291.5,35.9 L292.5,35.9 L293.4,35.9 L294.3,35.9 L295.3,35.9 L296.2,35.9 L297.1,35.9 L298.0,35.9 L299.0,35.9 L299.9,36.0 L300.8,36.0 L301.8,36.0 L302.7,36.0 L303.6,36.0 L304.6,36.0 L305.5,36.0 L306.4,36.0 L307.4,36.0 L308.3,36.0 L309.2,36.0 L310.1,36.0 L311.1,36.0 L312.0,36.0 L312.9,36.0 L313.9,36.0 L314.8,36.0 L315.7,36.0 L316.7,36.0 L317.6,36.0 L318.5,36.1 L319.5,36.1 L320.4,36.1 L321.3,36.1 L322.2,36.1 L323.2,36.1 L324.1,36.1 L325.0,36.1 L326.0,36.1 L326.9,36.1 L327.8,36.1 L328.8,36.1 L329.7,36.1 L330.6,36.1 L331.6,36.1 L332.5,36.1 L333.4,36.1 L334.3,36.1 L335.3,36.1 L336.2,36.1 L337.1,36.2 L338.1,36.2 L339.0,36.2 L339.9,36.2 L340.9,36.2 L341.8,36.2 L342.7,36.2 L343.7,36.2 L344.6,36.2 L345.5,36.3 L346.4,36.3 L347.4,36.3 L348.3,36.3 L349.2,36.3 L350.2,36.4 L351.1,36.4 L352.0,36.4 L353.0,36.5 L353.9,36.5 L354.8,36.5 L355.8,36.6 L356.7,36.6 L357.6,36.6 L358.5,36.7 L359.5,36.7 L360.4,36.8 L361.3,36.8 L362.3,36.9 L363.2,36.9 L364.1,37.0 L365.1,37.0 L366.0,37.1 L366.9,37.1 L367.9,37.2 L368.8,37.2 L369.7,37.3 L370.6,37.4 L371.6,37.4 L372.5,37.5 L373.4,37.6 L374.4,37.7 L375.3,37.8 L376.2,37.9 L377.2,38.0 L378.1,38.1 L379.0,38.2 L380.0,38.3 L380.9,38.5 L381.8,38.6 L382.7,38.8 L383.7,39.0 L384.6,39.2 L385.5,39.4 L386.5,39.6 L387.4,39.9 L388.3,40.1 L389.3,40.4 L390.2,40.6 L391.1,40.9 L392.1,41.2 L393.0,41.5 L393.9,41.8 L394.9,42.1 L395.8,42.5 L396.7,42.9 L397.6,43.2 L398.6,43.6 L399.5,44.1 L400.4,44.5 L401.4,45.0 L402.3,45.4 L403.2,45.9 L404.2,46.5 L405.1,47.1 L406.0,47.7 L407.0,48.4 L407.9,49.1 L408.8,49.8 L409.7,50.4 L410.7,51.1 L411.6,51.9 L412.5,52.6 L413.5,53.4 L414.4,54.2 L415.3,55.1 L416.3,56.1 L417.2,57.1 L418.1,58.1 L419.1,59.2 L420.0,60.4 L420.9,61.5 L421.8,62.7 L422.8,63.9 L423.7,65.1 L424.6,66.4 L425.6,67.6 L426.5,68.8 L427.4,69.9 L428.4,71.1 L429.3,72.4 L430.2,73.7 L431.2,75.2 L432.1,76.8 L433.0,78.5 L433.9,80.3 L434.9,82.1 L435.8,84.1 L436.7,86.1 L437.7,88.2 L438.6,90.3 L439.5,92.4 L440.5,94.4 L441.4,96.5 L442.3,98.5 L443.3,100.3 L444.2,101.9 L445.1,103.9 L446.0,106.6 L447.0,109.9 L447.9,113.2 L448.8,116.3 L449.8,119.4 L450.7,122.6 L451.6,126.2 L452.6,129.9 L453.5,133.7 L454.4,137.7 L455.4,141.6 L456.3,145.6 L457.2,149.8 L458.1,153.9 L459.1,158.2 L460.0,162.4 L460.9,166.6 L461.9,170.8 L462.8,175.0 L463.7,179.5 L464.7,184.1 L465.6,188.8 L466.5,193.5 L467.5,198.1 L468.4,202.7 L469.3,207.4 L470.2,212.3 L471.2,217.7 L472.1,223.1 L473.0,228.0 L474.0,232.8 L474.9,237.1 L475.8,241.7 L476.8,253.0 L477.7,257.8 L478.6,261.2 L479.6,265.2 L480.5,269.1 L481.4,273.2 L482.3,277.7 L483.3,282.4 L484.2,287.1 L485.1,291.6 L486.1,296.1 L487.0,301.0 L487.9,306.0 L488.9,310.2 L489.8,313.9 L490.7,317.3 L491.7,320.6 L492.6,323.8 L493.5,326.8 L494.4,329.7 L495.4,332.4 L496.3,335.0 L497.2,337.8 L498.2,340.9 L499.1,344.0 L500.0,347.0 L501.0,349.8 L501.9,352.6 L502.8,355.3 L503.8,358.0 L504.7,360.6 L505.6,363.3 L506.5,365.9 L507.5,368.5 L508.4,371.2 L509.3,373.9 L510.3,376.9 L511.2,380.0 L512.1,383.2 L513.1,386.2 L514.0,388.8 L514.9,391.4 L515.9,394.0 L516.8,396.8 L517.7,399.5 L518.6,402.4 L519.6,405.2 L520.5,408.1 L521.4,411.0 L522.4,413.9 L523.3,416.9 L524.2,419.8 L525.2,422.8 L526.1,425.8 L527.0,428.8 L528.0,431.8 L528.9,434.9 L529.8,438.0 L530.7,441.2 L531.7,444.4 L532.6,447.7 L533.5,451.1 L534.5,454.7 L535.4,458.4 L536.3,462.2 L537.3,466.1 L538.2,470.0 L539.1,473.8 L540.1,477.7 L541.0,481.4 L541.9,485.1 L542.8,488.8 L543.8,492.5 L544.7,496.2 L545.6,499.8 L546.6,503.4 L547.5,506.9 L548.4,510.5 L549.4,514.1 L550.3,517.5 L551.2,520.8 L552.2,523.7 L553.1,526.1 L554.0,528.4 L554.9,530.5 L555.9,532.6 L556.8,534.4 L557.7,536.2 L558.7,537.7 L559.6,539.0 L560.5,540.2 L561.5,541.2 L562.4,542.2 L563.3,543.1 L564.3,544.0 L565.2,544.8 L566.1,545.6 L567.0,546.3 L568.0,547.0 L568.9,547.6 L569.8,548.1 L570.8,548.6 L571.7,549.0 L572.6,549.4 L573.6,549.8 L574.5,550.1 L575.4,550.4 L576.4,550.7 L577.3,551.0 L578.2,551.3 L579.1,551.5 L580.1,551.8 L581.0,552.0 L581.9,552.2 L582.9,552.4 L583.8,552.6 L584.7,552.8 L585.7,553.0 L586.6,553.2 L587.5,553.4 L588.5,553.6 L589.4,553.8 L590.3,553.9 L591.2,554.1 L592.2,554.3 L593.1,554.5 L594.0,554.7 L595.0,554.9 L595.9,555.0 L596.8,555.2 L597.8,555.3 L598.7,555.5 L599.6,555.7 L600.6,555.9 L601.5,556.1 L602.4,556.3 L603.3,556.5 L604.3,556.7 L605.2,556.9 L606.1,557.1 L607.1,557.3 L608.0,557.5 L608.9,557.7 L609.9,557.9 L610.8,558.1 L611.7,558.3 L612.7,558.5 L613.6,558.7 L614.5,559.0 L615.4,559.2 L616.4,559.4 L617.3,559.6 L618.2,559.8 L619.2,560.0 L620.1,560.3 L621.0,560.5 L622.0,560.7 L622.9,560.9 L623.8,561.1 L624.8,561.3 L625.7,561.5 L626.6,561.7 L627.6,562.0 L628.5,562.2 L629.4,562.4 L630.3,562.6 L631.3,562.8 L632.2,563.0 L633.1,563.2 L634.1,563.5 L635.0,563.7 L635.9,563.9 L636.9,564.1 L637.8,564.3 L638.7,564.5 L639.7,564.8 L640.6,565.0 L641.5,565.2 L642.4,565.4 L643.4,565.6 L644.3,565.8 L645.2,566.0 L646.2,566.2 L647.1,566.5 L648.0,566.7 L649.0,566.9 L649.9,567.1 L650.8,567.3 L651.8,567.5 L652.7,567.6 L653.6,567.8 L654.5,568.0 L655.5,568.2 L656.4,568.4 L657.3,568.6 L658.3,568.7 L659.2,568.9 L660.1,569.1 L661.1,569.3 L662.0,569.4 L662.9,569.6 L663.9,569.8 L664.8,570.0 L665.7,570.1 L666.6,570.3 L667.6,570.5 L668.5,570.6 L669.4,570.8 L670.4,570.9 L671.3,571.1 L672.2,571.3 L673.2,571.4 L674.1,571.6 L675.0,571.7 L676.0,571.9 L676.9,572.0 L677.8,572.2 L678.7,572.3 L679.7,572.5 L680.6,572.6 L681.5,572.8 L682.5,572.9 L683.4,573.1 L684.3,573.2 L685.3,573.4 L686.2,573.5 L687.1,573.6 L688.1,573.8 L689.0,573.9 L689.9,574.0 L690.8,574.2 L691.8,574.3 L692.7,574.4 L693.6,574.6 L694.6,574.7 L691.5,578.5 L694.7,586.5 L698.1,597.0 L699.8,605.0 L699.6,609.5 L697.3,612.6 L1072.0,613.9" stroke="#7030A0" stroke-width="4.2"/>
<path d="M170.5,35.1 L171.5,35.1 L172.4,35.1 L173.3,35.1 L174.3,35.1 L175.2,35.1 L176.1,35.1 L177.0,35.1 L178.0,35.1 L178.9,35.1 L179.8,35.1 L180.8,35.1 L181.7,35.1 L182.6,35.1 L183.6,35.1 L184.5,35.1 L185.4,35.1 L186.4,35.1 L187.3,35.1 L188.2,35.1 L189.1,35.1 L190.1,35.1 L191.0,35.1 L191.9,35.1 L192.9,35.1 L193.8,35.1 L194.7,35.1 L195.7,35.2 L196.6,35.2 L197.5,35.2 L198.5,35.2 L199.4,35.2 L200.3,35.2 L201.2,35.2 L202.2,35.2 L203.1,35.2 L204.0,35.2 L205.0,35.2 L205.9,35.2 L206.8,35.2 L207.8,35.2 L208.7,35.2 L209.6,35.2 L210.6,35.2 L211.5,35.2 L212.4,35.2 L213.3,35.2 L214.3,35.2 L215.2,35.2 L216.1,35.2 L217.1,35.2 L218.0,35.2 L218.9,35.2 L219.9,35.2 L220.8,35.2 L221.7,35.2 L222.7,35.2 L223.6,35.2 L224.5,35.2 L225.4,35.2 L226.4,35.2 L227.3,35.2 L228.2,35.2 L229.2,35.2 L230.1,35.2 L231.0,35.2 L232.0,35.3 L232.9,35.3 L233.8,35.3 L234.8,35.3 L235.7,35.3 L236.6,35.3 L237.5,35.3 L238.5,35.3 L239.4,35.3 L240.3,35.3 L241.3,35.3 L242.2,35.3 L243.1,35.3 L244.1,35.3 L245.0,35.3 L245.9,35.3 L246.9,35.3 L247.8,35.3 L248.7,35.3 L249.6,35.3 L250.6,35.3 L251.5,35.3 L252.4,35.3 L253.4,35.3 L254.3,35.3 L255.2,35.3 L256.2,35.3 L257.1,35.3 L258.0,35.3 L259.0,35.3 L259.9,35.3 L260.8,35.3 L261.7,35.3 L262.7,35.3 L263.6,35.4 L264.5,35.4 L265.5,35.4 L266.4,35.4 L267.3,35.4 L268.3,35.4 L269.2,35.4 L270.1,35.4 L271.1,35.4 L272.0,35.4 L272.9,35.4 L273.8,35.4 L274.8,35.4 L275.7,35.4 L276.6,35.4 L277.6,35.4 L278.5,35.4 L279.4,35.4 L280.4,35.4 L281.3,35.4" stroke="#FFC000" stroke-width="2.80"/>
<path d="M212.4,35.2 L213.3,35.2 L214.3,35.2 L215.2,35.2 L216.1,35.2 L217.1,35.2 L218.0,35.2 L218.9,35.2 L219.9,35.2 L220.8,35.2 L221.7,35.2 L222.7,35.2 L223.6,35.2 L224.5,35.2 L225.4,35.2 L226.4,35.2 L227.3,35.2 L228.2,35.2 L229.2,35.2 L230.1,35.2 L231.0,35.2 L232.0,35.3 L232.9,35.3 L233.8,35.3 L234.8,35.3 L235.7,35.3 L236.6,35.3 L237.5,35.3 L238.5,35.3 L239.4,35.3 L240.3,35.3 L241.3,35.3 L242.2,35.3 L243.1,35.3 L244.1,35.3 L245.0,35.3 L245.9,35.3 L246.9,35.3 L247.8,35.3 L248.7,35.3 L249.6,35.3 L250.6,35.3 L251.5,35.3 L252.4,35.3 L253.4,35.3 L254.3,35.3 L255.2,35.3 L256.2,35.3 L257.1,35.3 L258.0,35.3 L259.0,35.3 L259.9,35.3 L260.8,35.3 L261.7,35.3 L262.7,35.3 L263.6,35.4 L264.5,35.4 L265.5,35.4 L266.4,35.4 L267.3,35.4 L268.3,35.4 L269.2,35.4 L270.1,35.4 L271.1,35.4 L272.0,35.4 L272.9,35.4 L273.8,35.4 L274.8,35.4 L275.7,35.4 L276.6,35.4 L277.6,35.4 L278.5,35.4 L279.4,35.4 L280.4,35.4 L281.3,35.4 L282.2,35.4 L283.2,35.4 L284.1,35.4 L285.0,35.4 L285.9,35.4 L286.9,35.4 L287.8,35.4 L288.7,35.4 L289.7,35.4 L290.6,35.4 L291.5,35.4 L292.5,35.4 L293.4,35.4 L294.3,35.4 L295.3,35.5 L296.2,35.5 L297.1,35.5 L298.0,35.5 L299.0,35.5 L299.9,35.5 L300.8,35.5 L301.8,35.5 L302.7,35.5 L303.6,35.5 L304.6,35.5 L305.5,35.5 L306.4,35.5 L307.4,35.5 L308.3,35.5 L309.2,35.5 L310.1,35.5 L311.1,35.5 L312.0,35.5 L312.9,35.5 L313.9,35.5 L314.8,35.5 L315.7,35.5 L316.7,35.5 L317.6,35.5 L318.5,35.5 L319.5,35.5 L320.4,35.5 L321.3,35.5 L322.2,35.5 L323.2,35.5 L324.1,35.5 L325.0,35.5 L326.0,35.5 L326.9,35.5 L327.8,35.5 L328.8,35.5 L329.7,35.5 L330.6,35.5 L331.6,35.5 L332.5,35.5 L333.4,35.5 L334.3,35.5 L335.3,35.5 L336.2,35.5 L337.1,35.6 L338.1,35.6 L339.0,35.6 L339.9,35.6 L340.9,35.6 L341.8,35.6 L342.7,35.6 L343.7,35.6 L344.6,35.6 L345.5,35.6 L346.4,35.6 L347.4,35.6 L348.3,35.6 L349.2,35.7 L350.2,35.7 L351.1,35.7 L352.0,35.7 L353.0,35.7 L353.9,35.8 L354.8,35.8 L355.8,35.8" stroke="#FFC000" stroke-width="3.40"/>
<path d="M282.2,35.4 L283.2,35.4 L284.1,35.4 L285.0,35.4 L285.9,35.4 L286.9,35.4 L287.8,35.4 L288.7,35.4 L289.7,35.4 L290.6,35.4 L291.5,35.4 L292.5,35.4 L293.4,35.4 L294.3,35.4 L295.3,35.5 L296.2,35.5 L297.1,35.5 L298.0,35.5 L299.0,35.5 L299.9,35.5 L300.8,35.5 L301.8,35.5 L302.7,35.5 L303.6,35.5 L304.6,35.5 L305.5,35.5 L306.4,35.5 L307.4,35.5 L308.3,35.5 L309.2,35.5 L310.1,35.5 L311.1,35.5 L312.0,35.5 L312.9,35.5 L313.9,35.5 L314.8,35.5 L315.7,35.5 L316.7,35.5 L317.6,35.5 L318.5,35.5 L319.5,35.5 L320.4,35.5 L321.3,35.5 L322.2,35.5 L323.2,35.5 L324.1,35.5 L325.0,35.5 L326.0,35.5 L326.9,35.5 L327.8,35.5 L328.8,35.5 L329.7,35.5 L330.6,35.5 L331.6,35.5 L332.5,35.5 L333.4,35.5 L334.3,35.5 L335.3,35.5 L336.2,35.5 L337.1,35.6 L338.1,35.6 L339.0,35.6 L339.9,35.6 L340.9,35.6 L341.8,35.6 L342.7,35.6 L343.7,35.6 L344.6,35.6 L345.5,35.6 L346.4,35.6 L347.4,35.6 L348.3,35.6 L349.2,35.7 L350.2,35.7 L351.1,35.7 L352.0,35.7 L353.0,35.7 L353.9,35.8 L354.8,35.8 L355.8,35.8 L356.7,35.9 L357.6,35.9 L358.5,35.9 L359.5,35.9 L360.4,36.0 L361.3,36.0 L362.3,36.1 L363.2,36.1 L364.1,36.1 L365.1,36.2 L366.0,36.2 L366.9,36.3 L367.9,36.3 L368.8,36.4 L369.7,36.5 L370.6,36.6 L371.6,36.7 L372.5,36.8 L373.4,36.9 L374.4,37.0 L375.3,37.1 L376.2,37.3 L377.2,37.4 L378.1,37.5 L379.0,37.7 L380.0,37.8 L380.9,38.0 L381.8,38.1 L382.7,38.3 L383.7,38.5 L384.6,38.7 L385.5,38.9 L386.5,39.1 L387.4,39.4 L388.3,39.6 L389.3,39.9 L390.2,40.1 L391.1,40.4 L392.1,40.7 L393.0,41.0 L393.9,41.3 L394.9,41.6 L395.8,41.9 L396.7,42.3 L397.6,42.7 L398.6,43.1 L399.5,43.5 L400.4,43.9 L401.4,44.3 L402.3,44.7 L403.2,45.1 L404.2,45.6 L405.1,46.1 L406.0,46.6 L407.0,47.1 L407.9,47.7 L408.8,48.2 L409.7,48.8 L410.7,49.3 L411.6,49.9 L412.5,50.5 L413.5,51.1 L414.4,51.7 L415.3,52.2 L416.3,52.9 L417.2,53.6 L418.1,54.4 L419.1,55.2 L420.0,56.1 L420.9,56.9 L421.8,57.8 L422.8,58.7 L423.7,59.6 L424.6,60.6 L425.6,61.7 L426.5,62.7 L427.4,63.9 L428.4,65.1 L429.3,66.4 L430.2,67.9 L431.2,69.5 L432.1,71.2 L433.0,73.0 L433.9,74.9 L434.9,76.9 L435.8,79.1 L436.7,81.5 L437.7,83.9 L438.6,86.2 L439.5,88.5 L440.5,90.8 L441.4,93.1 L442.3,95.4 L443.3,97.8 L444.2,100.0 L445.1,102.5 L446.0,105.6 L447.0,109.3 L447.9,113.2 L448.8,117.3 L449.8,121.7 L450.7,126.0 L451.6,130.2 L452.6,134.4 L453.5,138.5 L454.4,142.9 L455.4,147.2 L456.3,151.7 L457.2,156.5 L458.1,162.3 L459.1,169.0 L460.0,175.3 L460.9,180.1 L461.9,184.2 L462.8,188.2 L463.7,192.7 L464.7,197.6 L465.6,202.6 L466.5,207.6 L467.5,212.8 L468.4,217.7 L469.3,221.7 L470.2,227.2 L471.2,234.2 L472.1,240.3 L473.0,245.7 L474.0,250.9 L474.9,256.0 L475.8,260.8 L476.8,265.6 L477.7,270.3 L478.6,274.9 L479.6,279.5 L480.5,284.5 L481.4,289.7 L482.3,294.7 L483.3,299.4 L484.2,303.6 L485.1,307.8 L486.1,312.0 L487.0,316.2 L487.9,320.0 L488.9,323.3 L489.8,326.4 L490.7,329.3 L491.7,332.2 L492.6,334.9 L493.5,337.5 L494.4,339.9 L495.4,342.3 L496.3,344.6 L497.2,346.8 L498.2,348.8 L499.1,350.8 L500.0,352.8 L501.0,354.8 L501.9,356.7 L502.8,358.6 L503.8,360.7 L504.7,363.2 L505.6,366.6 L506.5,370.2 L507.5,372.9 L508.4,375.4 L509.3,378.0 L510.3,380.5 L511.2,383.0 L512.1,386.1 L513.1,390.8 L514.0,395.6 L514.9,399.2 L515.9,402.4 L516.8,405.3 L517.7,408.0 L518.6,410.7 L519.6,413.2 L520.5,415.8 L521.4,418.5 L522.4,421.3 L523.3,424.3 L524.2,427.3 L525.2,430.3 L526.1,433.3 L527.0,436.4 L528.0,439.5 L528.9,442.6 L529.8,445.9 L530.7,449.2 L531.7,452.6 L532.6,456.1 L533.5,459.8 L534.5,463.7 L535.4,467.5 L536.3,471.4 L537.3,475.3 L538.2,479.1 L539.1,482.9 L540.1,486.6 L541.0,490.3 L541.9,494.0 L542.8,497.7 L543.8,501.3 L544.7,504.8 L545.6,508.3 L546.6,512.0 L547.5,515.5 L548.4,519.0 L549.4,522.2 L550.3,525.1 L551.2,527.6 L552.2,529.8 L553.1,532.0 L554.0,534.0 L554.9,535.9 L555.9,537.6 L556.8,539.2 L557.7,540.5 L558.7,541.6 L559.6,542.7 L560.5,543.6 L561.5,544.6 L562.4,545.5 L563.3,546.3 L564.3,547.0 L565.2,547.8 L566.1,548.4 L567.0,549.0 L568.0,549.6 L568.9,550.1 L569.8,550.5 L570.8,550.9 L571.7,551.2 L572.6,551.6 L573.6,551.9 L574.5,552.2 L575.4,552.5 L576.4,552.7 L577.3,553.0 L578.2,553.2 L579.1,553.5 L580.1,553.7 L581.0,553.9 L581.9,554.1 L582.9,554.3 L583.8,554.5 L584.7,554.7 L585.7,554.9 L586.6,555.0 L587.5,555.2 L588.5,555.4 L589.4,555.6 L590.3,555.8 L591.2,556.0 L592.2,556.2 L593.1,556.3 L594.0,556.5 L595.0,556.7 L595.9,556.8 L596.8,557.0 L597.8,557.2 L598.7,557.3 L599.6,557.5 L600.6,557.7 L601.5,557.9 L602.4,558.1 L603.3,558.3 L604.3,558.5 L605.2,558.7 L606.1,558.9 L607.1,559.1 L608.0,559.3 L608.9,559.6 L609.9,559.8 L610.8,560.0 L611.7,560.2 L612.7,560.4 L613.6,560.6 L614.5,560.9 L615.4,561.1 L616.4,561.3 L617.3,561.5 L618.2,561.7 L619.2,561.9 L620.1,562.2 L621.0,562.4 L622.0,562.6 L622.9,562.8 L623.8,563.0 L624.8,563.2 L625.7,563.4 L626.6,563.6 L627.6,563.8 L628.5,564.1 L629.4,564.3 L630.3,564.5 L631.3,564.7 L632.2,564.9 L633.1,565.1 L634.1,565.4 L635.0,565.6 L635.9,565.8 L636.9,566.0 L637.8,566.2 L638.7,566.4 L639.7,566.7 L640.6,566.9 L641.5,567.1 L642.4,567.3 L643.4,567.5 L644.3,567.7 L645.2,567.9 L646.2,568.1 L647.1,568.3 L648.0,568.5 L649.0,568.7 L649.9,568.9 L650.8,569.1 L651.8,569.3 L652.7,569.5 L653.6,569.7 L654.5,569.9 L655.5,570.0 L656.4,570.2 L657.3,570.4 L658.3,570.6 L659.2,570.7 L660.1,570.9 L661.1,571.1 L662.0,571.3 L662.9,571.4 L663.9,571.6 L664.8,571.8 L665.7,571.9 L666.6,572.1 L667.6,572.2 L668.5,572.4 L669.4,572.6 L670.4,572.7 L671.3,572.9 L672.2,573.0 L673.2,573.2 L674.1,573.3 L675.0,573.5 L676.0,573.6 L676.9,573.8 L677.8,573.9 L678.7,574.1 L679.7,574.2 L680.6,574.4 L681.5,574.5 L682.5,574.7 L683.4,574.8 L684.3,575.0 L685.3,575.1 L686.2,575.2 L687.1,575.4 L688.1,575.5 L689.0,575.6 L689.9,575.8 L690.8,575.9 L691.8,576.0 L692.7,576.2 L691.0,577.3 L694.5,585.6 L698.7,596.7 L701.5,605.1 L702.2,610.4 L697.6,614.4 L1071.8,615.5" stroke="#FFC000" stroke-width="4.0"/>
<path d="M170.5,35.1 L171.5,35.1 L172.4,35.1 L173.3,35.1 L174.3,35.1 L175.2,35.1 L176.1,35.1 L177.0,35.1 L178.0,35.1 L178.9,35.1 L179.8,35.1 L180.8,35.1 L181.7,35.1 L182.6,35.1 L183.6,35.1 L184.5,35.1 L185.4,35.1 L186.4,35.1 L187.3,35.1 L188.2,35.1 L189.1,35.1 L190.1,35.1 L191.0,35.1 L191.9,35.1 L192.9,35.1 L193.8,35.1 L194.7,35.1 L195.7,35.1 L196.6,35.1 L197.5,35.1 L198.5,35.1 L199.4,35.1 L200.3,35.1 L201.2,35.1 L202.2,35.1 L203.1,35.1 L204.0,35.1 L205.0,35.1 L205.9,35.1 L206.8,35.1 L207.8,35.1 L208.7,35.1 L209.6,35.1 L210.6,35.1 L211.5,35.1 L212.4,35.1 L213.3,35.1 L214.3,35.1 L215.2,35.1 L216.1,35.1 L217.1,35.1 L218.0,35.1 L218.9,35.1 L219.9,35.1 L220.8,35.1 L221.7,35.1 L222.7,35.1 L223.6,35.1 L224.5,35.1 L225.4,35.1 L226.4,35.1 L227.3,35.1 L228.2,35.1 L229.2,35.1 L230.1,35.1 L231.0,35.1 L232.0,35.1 L232.9,35.1 L233.8,35.1 L234.8,35.1 L235.7,35.1 L236.6,35.1 L237.5,35.1 L238.5,35.1 L239.4,35.1 L240.3,35.1 L241.3,35.1 L242.2,35.1 L243.1,35.1 L244.1,35.1 L245.0,35.1 L245.9,35.1 L246.9,35.1 L247.8,35.1 L248.7,35.1 L249.6,35.1 L250.6,35.1 L251.5,35.1 L252.4,35.1 L253.4,35.1 L254.3,35.1 L255.2,35.1 L256.2,35.1 L257.1,35.1 L258.0,35.1 L259.0,35.1 L259.9,35.1 L260.8,35.1 L261.7,35.1 L262.7,35.1 L263.6,35.1 L264.5,35.1 L265.5,35.1 L266.4,35.1 L267.3,35.1 L268.3,35.1 L269.2,35.1 L270.1,35.1 L271.1,35.1 L272.0,35.1 L272.9,35.1 L273.8,35.1 L274.8,35.1 L275.7,35.1 L276.6,35.1 L277.6,35.1 L278.5,35.1 L279.4,35.1 L280.4,35.1 L281.3,35.1" stroke="#5B9BD5" stroke-width="3.29"/>
<path d="M212.4,35.1 L213.3,35.1 L214.3,35.1 L215.2,35.1 L216.1,35.1 L217.1,35.1 L218.0,35.1 L218.9,35.1 L219.9,35.1 L220.8,35.1 L221.7,35.1 L222.7,35.1 L223.6,35.1 L224.5,35.1 L225.4,35.1 L226.4,35.1 L227.3,35.1 L228.2,35.1 L229.2,35.1 L230.1,35.1 L231.0,35.1 L232.0,35.1 L232.9,35.1 L233.8,35.1 L234.8,35.1 L235.7,35.1 L236.6,35.1 L237.5,35.1 L238.5,35.1 L239.4,35.1 L240.3,35.1 L241.3,35.1 L242.2,35.1 L243.1,35.1 L244.1,35.1 L245.0,35.1 L245.9,35.1 L246.9,35.1 L247.8,35.1 L248.7,35.1 L249.6,35.1 L250.6,35.1 L251.5,35.1 L252.4,35.1 L253.4,35.1 L254.3,35.1 L255.2,35.1 L256.2,35.1 L257.1,35.1 L258.0,35.1 L259.0,35.1 L259.9,35.1 L260.8,35.1 L261.7,35.1 L262.7,35.1 L263.6,35.1 L264.5,35.1 L265.5,35.1 L266.4,35.1 L267.3,35.1 L268.3,35.1 L269.2,35.1 L270.1,35.1 L271.1,35.1 L272.0,35.1 L272.9,35.1 L273.8,35.1 L274.8,35.1 L275.7,35.1 L276.6,35.1 L277.6,35.1 L278.5,35.1 L279.4,35.1 L280.4,35.1 L281.3,35.1 L282.2,35.1 L283.2,35.1 L284.1,35.1 L285.0,35.1 L285.9,35.1 L286.9,35.1 L287.8,35.1 L288.7,35.1 L289.7,35.1 L290.6,35.1 L291.5,35.1 L292.5,35.1 L293.4,35.1 L294.3,35.1 L295.3,35.1 L296.2,35.1 L297.1,35.1 L298.0,35.1 L299.0,35.1 L299.9,35.1 L300.8,35.1 L301.8,35.1 L302.7,35.1 L303.6,35.1 L304.6,35.1 L305.5,35.1 L306.4,35.1 L307.4,35.1 L308.3,35.1 L309.2,35.1 L310.1,35.1 L311.1,35.1 L312.0,35.1 L312.9,35.1 L313.9,35.1 L314.8,35.1 L315.7,35.1 L316.7,35.1 L317.6,35.1 L318.5,35.1 L319.5,35.1 L320.4,35.1 L321.3,35.1 L322.2,35.1 L323.2,35.1 L324.1,35.1 L325.0,35.1 L326.0,35.1 L326.9,35.1 L327.8,35.1 L328.8,35.1 L329.7,35.1 L330.6,35.1 L331.6,35.1 L332.5,35.1 L333.4,35.1 L334.3,35.1 L335.3,35.1 L336.2,35.1 L337.1,35.1 L338.1,35.2 L339.0,35.2 L339.9,35.2 L340.9,35.2 L341.8,35.2 L342.7,35.2 L343.7,35.2 L344.6,35.2 L345.5,35.2 L346.4,35.2 L347.4,35.2 L348.3,35.2 L349.2,35.2 L350.2,35.2 L351.1,35.2 L352.0,35.2 L353.0,35.2 L353.9,35.2 L354.8,35.2 L355.8,35.3" stroke="#5B9BD5" stroke-width="4.00"/>
<path d="M282.2,35.1 L283.2,35.1 L284.1,35.1 L285.0,35.1 L285.9,35.1 L286.9,35.1 L287.8,35.1 L288.7,35.1 L289.7,35.1 L290.6,35.1 L291.5,35.1 L292.5,35.1 L293.4,35.1 L294.3,35.1 L295.3,35.1 L296.2,35.1 L297.1,35.1 L298.0,35.1 L299.0,35.1 L299.9,35.1 L300.8,35.1 L301.8,35.1 L302.7,35.1 L303.6,35.1 L304.6,35.1 L305.5,35.1 L306.4,35.1 L307.4,35.1 L308.3,35.1 L309.2,35.1 L310.1,35.1 L311.1,35.1 L312.0,35.1 L312.9,35.1 L313.9,35.1 L314.8,35.1 L315.7,35.1 L316.7,35.1 L317.6,35.1 L318.5,35.1 L319.5,35.1 L320.4,35.1 L321.3,35.1 L322.2,35.1 L323.2,35.1 L324.1,35.1 L325.0,35.1 L326.0,35.1 L326.9,35.1 L327.8,35.1 L328.8,35.1 L329.7,35.1 L330.6,35.1 L331.6,35.1 L332.5,35.1 L333.4,35.1 L334.3,35.1 L335.3,35.1 L336.2,35.1 L337.1,35.1 L338.1,35.2 L339.0,35.2 L339.9,35.2 L340.9,35.2 L341.8,35.2 L342.7,35.2 L343.7,35.2 L344.6,35.2 L345.5,35.2 L346.4,35.2 L347.4,35.2 L348.3,35.2 L349.2,35.2 L350.2,35.2 L351.1,35.2 L352.0,35.2 L353.0,35.2 L353.9,35.2 L354.8,35.2 L355.8,35.3 L356.7,35.3 L357.6,35.3 L358.5,35.3 L359.5,35.3 L360.4,35.3 L361.3,35.4 L362.3,35.4 L363.2,35.4 L364.1,35.4 L365.1,35.5 L366.0,35.5 L366.9,35.5 L367.9,35.6 L368.8,35.6 L369.7,35.7 L370.6,35.8 L371.6,35.8 L372.5,35.9 L373.4,36.0 L374.4,36.1 L375.3,36.2 L376.2,36.4 L377.2,36.5 L378.1,36.6 L379.0,36.7 L380.0,36.9 L380.9,37.0 L381.8,37.2 L382.7,37.4 L383.7,37.6 L384.6,37.8 L385.5,38.0 L386.5,38.2 L387.4,38.4 L388.3,38.7 L389.3,38.9 L390.2,39.2 L391.1,39.4 L392.1,39.7 L393.0,40.1 L393.9,40.4 L394.9,40.8 L395.8,41.1 L396.7,41.5 L397.6,41.9 L398.6,42.3 L399.5,42.7 L400.4,43.1 L401.4,43.6 L402.3,44.0 L403.2,44.6 L404.2,45.1 L405.1,45.7 L406.0,46.3 L407.0,46.9 L407.9,47.5 L408.8,48.1 L409.7,48.7 L410.7,49.3 L411.6,49.9 L412.5,50.5 L413.5,51.2 L414.4,52.0 L415.3,52.9 L416.3,53.9 L417.2,54.8 L418.1,55.8 L419.1,56.8 L420.0,57.8 L420.9,58.9 L421.8,60.0 L422.8,61.2 L423.7,62.4 L424.6,63.7 L425.6,65.0 L426.5,66.3 L427.4,67.6 L428.4,69.0 L429.3,70.4 L430.2,71.9 L431.2,73.4 L432.1,75.0 L433.0,76.6 L433.9,78.4 L434.9,80.2 L435.8,82.1 L436.7,84.1 L437.7,86.2 L438.6,88.3 L439.5,90.4 L440.5,92.7 L441.4,95.0 L442.3,97.4 L443.3,99.8 L444.2,102.0 L445.1,104.5 L446.0,107.6 L447.0,111.0 L447.9,114.5 L448.8,117.6 L449.8,120.7 L450.7,124.0 L451.6,127.9 L452.6,132.2 L453.5,136.6 L454.4,141.1 L455.4,145.6 L456.3,150.4 L457.2,155.2 L458.1,159.9 L459.1,164.5 L460.0,168.7 L460.9,172.8 L461.9,177.0 L462.8,181.4 L463.7,186.1 L464.7,190.8 L465.6,195.6 L466.5,200.7 L467.5,205.8 L468.4,210.9 L469.3,215.7 L470.2,220.3 L471.2,225.5 L472.1,231.1 L473.0,236.3 L474.0,240.5 L474.9,244.7 L475.8,251.2 L476.8,257.8 L477.7,262.0 L478.6,265.7 L479.6,269.9 L480.5,274.8 L481.4,280.0 L482.3,285.1 L483.3,290.1 L484.2,295.1 L485.1,299.9 L486.1,304.7 L487.0,309.3 L487.9,313.3 L488.9,316.8 L489.8,319.8 L490.7,322.7 L491.7,325.6 L492.6,328.4 L493.5,331.0 L494.4,333.5 L495.4,335.9 L496.3,338.1 L497.2,340.4 L498.2,342.7 L499.1,345.0 L500.0,347.4 L501.0,349.8 L501.9,352.2 L502.8,354.6 L503.8,357.0 L504.7,359.5 L505.6,362.0 L506.5,364.7 L507.5,367.3 L508.4,370.0 L509.3,372.7 L510.3,375.4 L511.2,378.1 L512.1,380.8 L513.1,383.5 L514.0,386.2 L514.9,389.0 L515.9,391.8 L516.8,394.6 L517.7,397.4 L518.6,400.2 L519.6,403.0 L520.5,405.9 L521.4,408.7 L522.4,411.6 L523.3,414.5 L524.2,417.5 L525.2,420.5 L526.1,423.4 L527.0,426.4 L528.0,429.4 L528.9,432.5 L529.8,435.5 L530.7,438.7 L531.7,441.9 L532.6,445.1 L533.5,448.5 L534.5,451.9 L535.4,455.6 L536.3,459.3 L537.3,463.1 L538.2,467.0 L539.1,470.9 L540.1,474.8 L541.0,478.6 L541.9,482.3 L542.8,486.0 L543.8,489.7 L544.7,493.4 L545.6,497.1 L546.6,500.7 L547.5,504.2 L548.4,507.7 L549.4,511.3 L550.3,514.9 L551.2,518.3 L552.2,521.4 L553.1,524.1 L554.0,526.4 L554.9,528.7 L555.9,530.8 L556.8,532.7 L557.7,534.6 L558.7,536.2 L559.6,537.7 L560.5,538.9 L561.5,540.0 L562.4,541.0 L563.3,542.0 L564.3,542.9 L565.2,543.7 L566.1,544.5 L567.0,545.3 L568.0,546.0 L568.9,546.6 L569.8,547.2 L570.8,547.7 L571.7,548.2 L572.6,548.6 L573.6,549.0 L574.5,549.3 L575.4,549.6 L576.4,549.9 L577.3,550.2 L578.2,550.5 L579.1,550.8 L580.1,551.0 L581.0,551.3 L581.9,551.5 L582.9,551.7 L583.8,551.9 L584.7,552.1 L585.7,552.3 L586.6,552.5 L587.5,552.7 L588.5,552.9 L589.4,553.1 L590.3,553.2 L591.2,553.4 L592.2,553.6 L593.1,553.8 L594.0,554.0 L595.0,554.2 L595.9,554.3 L596.8,554.5 L597.8,554.7 L598.7,554.8 L599.6,555.0 L600.6,555.2 L601.5,555.4 L602.4,555.6 L603.3,555.8 L604.3,555.9 L605.2,556.1 L606.1,556.3 L607.1,556.5 L608.0,556.8 L608.9,557.0 L609.9,557.2 L610.8,557.4 L611.7,557.6 L612.7,557.8 L613.6,558.0 L614.5,558.2 L615.4,558.5 L616.4,558.7 L617.3,558.9 L618.2,559.1 L619.2,559.3 L620.1,559.5 L621.0,559.8 L622.0,560.0 L622.9,560.2 L623.8,560.4 L624.8,560.6 L625.7,560.8 L626.6,561.0 L627.6,561.2 L628.5,561.5 L629.4,561.7 L630.3,561.9 L631.3,562.1 L632.2,562.3 L633.1,562.5 L634.1,562.7 L635.0,563.0 L635.9,563.2 L636.9,563.4 L637.8,563.6 L638.7,563.8 L639.7,564.0 L640.6,564.3 L641.5,564.5 L642.4,564.7 L643.4,564.9 L644.3,565.1 L645.2,565.3 L646.2,565.5 L647.1,565.7 L648.0,565.9 L649.0,566.2 L649.9,566.4 L650.8,566.6 L651.8,566.8 L652.7,566.9 L653.6,567.1 L654.5,567.3 L655.5,567.5 L656.4,567.7 L657.3,567.9 L658.3,568.1 L659.2,568.2 L660.1,568.4 L661.1,568.6 L662.0,568.8 L662.9,568.9 L663.9,569.1 L664.8,569.3 L665.7,569.4 L666.6,569.6 L667.6,569.8 L668.5,569.9 L669.4,570.1 L670.4,570.3 L671.3,570.4 L672.2,570.6 L673.2,570.7 L674.1,570.9 L675.0,571.0 L676.0,571.2 L676.9,571.4 L677.8,571.5 L678.7,571.7 L679.7,571.8 L680.6,572.0 L681.5,572.1 L682.5,572.3 L683.4,572.4 L684.3,572.5 L685.3,572.7 L686.2,572.8 L687.1,573.0 L688.1,573.1 L689.0,573.2 L689.9,573.4 L690.8,573.5 L691.8,573.6 L692.7,573.8 L693.6,573.9 L694.6,574.0 L695.5,574.2 L697.3,577.3 L701.5,585.6 L705.6,596.7 L707.0,607.0 L706.3,612.0 L699.0,612.7 L1072.2,613.5" stroke="#5B9BD5" stroke-width="4.7"/>
</g>
<g stroke-linecap="round">
<line x1="187.2" y1="421.2" x2="217.6" y2="421.2" stroke="#FF0000" stroke-width="4.4"/>
<line x1="187.2" y1="456.5" x2="217.6" y2="456.5" stroke="#7F7F7F" stroke-width="4.9"/>
<line x1="187.2" y1="491.8" x2="217.6" y2="491.8" stroke="#70AD47" stroke-width="4.4"/>
<line x1="187.2" y1="527.2" x2="217.6" y2="527.2" stroke="#7030A0" stroke-width="3.4"/>
<line x1="187.2" y1="562.4" x2="217.6" y2="562.4" stroke="#FFC000" stroke-width="4.4"/>
<line x1="187.2" y1="598.4" x2="217.6" y2="598.4" stroke="#5B9BD5" stroke-width="5.0"/>
</g>
<g font-family="'Liberation Sans', sans-serif" font-size="24.7" fill="#000">
<text x="220.6" y="429.5" textLength="117.6" lengthAdjust="spacingAndGlyphs">TPS/ASP-1</text>
<text x="220.6" y="464.8" textLength="117.6" lengthAdjust="spacingAndGlyphs">TPS/ASP-2</text>
<text x="220.6" y="500.1" textLength="117.6" lengthAdjust="spacingAndGlyphs">TPS/ASP-3</text>
<text x="220.6" y="535.5" textLength="117.6" lengthAdjust="spacingAndGlyphs">TPS/ASP-4</text>
<text x="220.6" y="570.7" textLength="117.6" lengthAdjust="spacingAndGlyphs">TPS/ASP-5</text>
<text x="220.6" y="606.7" textLength="117.6" lengthAdjust="spacingAndGlyphs">TPS/ASP-6</text>
</g>
<rect x="549.3" y="38.2" width="579.2" height="378.6" fill="#fff" stroke="none"/>
<line x1="548.8" y1="38.2" x2="1129.1" y2="38.2" stroke="#E0E0E0" stroke-width="1.0"/>
<line x1="549.3" y1="37.7" x2="549.3" y2="417.7" stroke="#E0E0E0" stroke-width="1.0"/>
<line x1="1128.55" y1="37.7" x2="1128.55" y2="417.7" stroke="#DDDDDD" stroke-width="1.1"/>
<line x1="548.8" y1="416.7" x2="1129.1" y2="416.7" stroke="#D4D4D4" stroke-width="2.0"/>
<line x1="1109" y1="50.4" x2="1109" y2="390.3" stroke="#D0D0D0" stroke-width="1.5"/>
<line x1="596.6" y1="50.4" x2="596.6" y2="390.3" stroke="#8C8C8C" stroke-width="1.1"/>
<line x1="853.4" y1="380" x2="853.4" y2="390.9" stroke="#909090" stroke-width="1.1"/>
<line x1="592.1" y1="50.4" x2="1109.4" y2="50.4" stroke="#4A4A4A" stroke-width="1.2"/>
<line x1="592.1" y1="385.4" x2="1109.4" y2="385.4" stroke="#4A4A4A" stroke-width="1.2"/>
<line x1="592.1" y1="107.0" x2="601.8" y2="107.0" stroke="#C4C4C4" stroke-width="1.1"/>
<line x1="592.1" y1="162.8" x2="601.8" y2="162.8" stroke="#555" stroke-width="1.1"/>
<line x1="592.1" y1="218.5" x2="601.8" y2="218.5" stroke="#777" stroke-width="1.1"/>
<line x1="592.1" y1="274.2" x2="601.8" y2="274.2" stroke="#999" stroke-width="1.1"/>
<line x1="592.1" y1="330.0" x2="601.8" y2="330.0" stroke="#888" stroke-width="1.1"/>
<g fill="none" stroke-linejoin="round" stroke-linecap="butt" clip-path="url(#ic)">
<path d="M596.5,54.7 L597.8,54.7 L599.1,54.7 L600.3,54.7 L601.6,54.7 L602.9,54.8 L604.2,54.8 L605.5,54.8 L606.8,54.8 L608.0,54.8 L609.3,54.8 L610.6,54.9 L611.9,54.9 L613.2,54.9 L614.4,54.9 L615.7,54.9 L617.0,55.0 L618.3,55.0 L619.6,55.0 L620.8,55.0 L622.1,55.1 L623.4,55.1 L624.7,55.1 L626.0,55.1 L627.2,55.2 L628.5,55.2 L629.8,55.2 L631.1,55.2 L632.4,55.3 L633.7,55.3 L634.9,55.3 L636.2,55.4 L637.5,55.4 L638.8,55.4 L640.1,55.4 L641.3,55.5 L642.6,55.5 L643.9,55.5 L645.2,55.6 L646.5,55.6 L647.8,55.6 L649.0,55.6 L650.3,55.7 L651.6,55.7 L652.9,55.7 L654.2,55.8 L655.4,55.8 L656.7,55.8 L658.0,55.8 L659.3,55.9 L660.6,55.9 L661.8,55.9 L663.1,55.9 L664.4,56.0 L665.7,56.0 L667.0,56.0 L668.2,56.0 L669.5,56.1 L670.8,56.1 L672.1,56.1 L673.4,56.1 L674.7,56.2 L675.9,56.2 L677.2,56.2 L678.5,56.2 L679.8,56.3 L681.1,56.3 L682.3,56.3 L683.6,56.3 L684.9,56.4 L686.2,56.4 L687.5,56.4 L688.8,56.4 L690.0,56.5 L691.3,56.5 L692.6,56.6 L693.9,56.6 L695.2,56.6 L696.4,56.7 L697.7,56.7 L699.0,56.8 L700.3,56.8 L701.6,56.9 L702.8,56.9 L704.1,57.0 L705.4,57.1 L706.7,57.2 L708.0,57.3 L709.2,57.4 L710.5,57.6 L711.8,57.7 L713.1,57.8 L714.4,57.9 L715.7,58.0 L716.9,58.1 L718.2,58.2 L719.5,58.3 L720.8,58.4 L722.1,58.5 L723.3,58.6 L724.6,58.7 L725.9,58.8 L727.2,59.0 L728.5,59.1 L729.8,59.2 L731.0,59.3 L732.3,59.4 L733.6,59.5 L734.9,59.6 L736.2,59.7 L737.4,59.8 L738.7,59.9 L740.0,60.0 L741.3,60.1 L742.6,60.2 L743.8,60.3 L745.1,60.4 L746.4,60.6 L747.7,60.7 L749.0,60.8 L750.2,60.9 L751.5,61.0 L752.8,61.1 L754.1,61.3 L755.4,61.4 L756.7,61.5 L757.9,61.6 L759.2,61.7 L760.5,61.9 L761.8,62.0 L763.1,62.1 L764.3,62.3 L765.6,62.4 L766.9,62.6 L768.2,62.7 L769.5,62.9 L770.8,63.0 L772.0,63.2 L773.3,63.4 L774.6,63.5 L775.9,63.7 L777.2,63.9 L778.4,64.0 L779.7,64.2 L781.0,64.4 L782.3,64.6 L783.6,64.8 L784.8,65.1 L786.1,65.3 L787.4,65.5 L788.7,65.7 L790.0,65.9 L791.2,66.1 L792.5,66.3 L793.8,66.4 L795.1,66.5 L796.4,66.6 L797.7,66.7 L798.9,66.8 L800.2,66.9 L801.5,67.1 L802.8,67.3 L804.1,67.6 L805.3,67.8 L806.6,68.1 L807.9,68.4 L809.2,68.7 L810.5,69.0 L811.8,69.3 L813.0,69.6 L814.3,69.9 L815.6,70.2 L816.9,70.5 L818.2,70.8 L819.4,71.1 L820.7,71.4 L822.0,71.7 L823.3,72.1 L824.6,72.4 L825.8,72.8 L827.1,73.1 L828.4,73.5 L829.7,73.9 L831.0,74.2 L832.2,74.6 L833.5,75.0 L834.8,75.4 L836.1,75.8 L837.4,76.2 L838.7,76.6 L839.9,76.9 L841.2,77.3 L842.5,77.6 L843.8,78.0 L845.1,78.4 L846.3,78.7 L847.6,79.1 L848.9,79.6 L850.2,80.0 L851.5,80.5 L852.8,81.0 L854.0,81.5 L855.3,82.1 L856.6,82.7 L857.9,83.3 L859.2,83.9 L860.4,84.5 L861.7,85.2 L863.0,85.8 L864.3,86.5 L865.6,87.2 L866.8,87.8 L868.1,88.6 L869.4,89.3 L870.7,90.1 L872.0,91.0 L873.2,91.8 L874.5,92.8 L875.8,93.9 L877.1,95.1 L878.4,96.4 L879.7,97.8 L880.9,99.1 L882.2,100.4 L883.5,101.7 L884.8,102.9 L886.1,104.1 L887.3,105.3 L888.6,106.5 L889.9,107.6 L891.2,108.6 L892.5,109.7 L893.8,110.7 L895.0,111.7 L896.3,112.8 L897.6,114.0 L898.9,115.2 L900.2,116.5 L901.4,117.9 L902.7,119.4 L904.0,121.0 L905.3,122.6 L906.6,124.4 L907.8,126.2 L909.1,128.1 L910.4,130.0 L911.7,132.0 L913.0,133.9 L914.2,135.9 L915.5,137.9 L916.8,140.0 L918.1,142.2 L919.4,144.4 L920.7,146.6 L921.9,148.8 L923.2,151.1 L924.5,153.4 L925.8,155.8 L927.1,158.1 L928.3,160.4 L929.6,162.9 L930.9,165.3 L932.2,167.8 L933.5,170.2 L934.8,172.7 L936.0,175.0 L937.3,177.3 L938.6,179.4 L939.9,181.4 L941.2,183.4 L942.4,185.3 L943.7,187.2 L945.0,189.2 L946.3,191.2 L947.6,193.3 L948.8,195.4 L950.1,197.6 L951.4,199.8 L952.7,202.1 L954.0,204.5 L955.2,207.0 L956.5,209.5 L957.8,212.1 L959.1,214.8 L960.4,217.6 L961.7,220.7 L962.9,224.1 L964.2,228.1 L965.5,231.5 L966.8,234.5 L968.1,237.3 L969.3,239.9 L970.6,242.5 L971.9,245.1 L973.2,247.9 L974.5,250.7 L975.8,253.5 L977.0,256.3 L978.3,259.1 L979.6,261.8 L980.9,264.4 L982.2,267.0 L983.4,269.5 L984.7,272.1 L986.0,274.6 L987.3,277.2 L988.6,279.8 L989.8,282.5 L991.1,285.2 L992.4,287.8 L993.7,290.4 L995.0,292.9 L996.2,295.2 L997.5,297.2 L998.8,299.1 L1000.1,301.1 L1001.4,303.2 L1002.7,305.3 L1003.9,307.5 L1005.2,309.6 L1006.5,311.7 L1007.8,313.8 L1009.1,315.9 L1010.3,317.9 L1011.6,320.0 L1012.9,322.0 L1014.2,323.9 L1015.5,325.7 L1016.8,327.5 L1018.0,329.3 L1019.3,331.0 L1020.6,332.7 L1021.9,334.2 L1023.2,335.7 L1024.4,336.9 L1025.7,337.9 L1027.0,338.9 L1028.3,339.8 L1029.6,340.9 L1030.8,342.1 L1032.1,343.5 L1033.4,345.0 L1034.7,346.5 L1036.0,348.1 L1037.2,349.6 L1038.5,351.2 L1039.8,352.7 L1041.1,354.2 L1042.4,355.6 L1043.7,357.1 L1044.9,358.4 L1046.2,359.8 L1047.5,361.1 L1048.8,362.4 L1050.1,363.6 L1051.3,364.9 L1052.6,366.1 L1053.9,367.4 L1055.2,368.7 L1056.5,370.0 L1057.8,371.3 L1059.0,372.5 L1060.3,373.7 L1061.6,374.8 L1062.9,375.9 L1064.2,377.1 L1065.4,378.3 L1066.7,379.6 L1068.0,380.9 L1069.3,382.4 L1070.6,384.1 L1071.8,385.9 L1073.1,388.6 L1074.4,391.6 L1075.7,394.0 L1077.0,395.9 L1078.2,397.7 L1079.5,399.3 L1080.8,400.8 L1082.1,402.3 L1083.4,403.7 L1084.7,405.0 L1085.9,406.3 L1087.2,407.5" stroke="#FF0000" stroke-width="2.15"/>
<path d="M596.5,54.0 L597.8,54.0 L599.1,54.0 L600.3,54.0 L601.6,54.0 L602.9,54.0 L604.2,54.1 L605.5,54.1 L606.8,54.1 L608.0,54.1 L609.3,54.1 L610.6,54.1 L611.9,54.1 L613.2,54.2 L614.4,54.2 L615.7,54.2 L617.0,54.2 L618.3,54.2 L619.6,54.2 L620.8,54.3 L622.1,54.3 L623.4,54.3 L624.7,54.3 L626.0,54.3 L627.2,54.4 L628.5,54.4 L629.8,54.4 L631.1,54.4 L632.4,54.5 L633.7,54.5 L634.9,54.5 L636.2,54.5 L637.5,54.5 L638.8,54.6 L640.1,54.6 L641.3,54.6 L642.6,54.6 L643.9,54.7 L645.2,54.7 L646.5,54.7 L647.8,54.7 L649.0,54.8 L650.3,54.8 L651.6,54.8 L652.9,54.8 L654.2,54.9 L655.4,54.9 L656.7,54.9 L658.0,54.9 L659.3,55.0 L660.6,55.0 L661.8,55.0 L663.1,55.0 L664.4,55.1 L665.7,55.1 L667.0,55.1 L668.2,55.1 L669.5,55.2 L670.8,55.2 L672.1,55.2 L673.4,55.2 L674.7,55.3 L675.9,55.3 L677.2,55.3 L678.5,55.4 L679.8,55.4 L681.1,55.4 L682.3,55.5 L683.6,55.5 L684.9,55.5 L686.2,55.6 L687.5,55.6 L688.8,55.6 L690.0,55.7 L691.3,55.7 L692.6,55.7 L693.9,55.8 L695.2,55.8 L696.4,55.9 L697.7,55.9 L699.0,56.0 L700.3,56.0 L701.6,56.1 L702.8,56.1 L704.1,56.2 L705.4,56.3 L706.7,56.3 L708.0,56.4 L709.2,56.5 L710.5,56.6 L711.8,56.7 L713.1,56.8 L714.4,56.9 L715.7,57.0 L716.9,57.1 L718.2,57.2 L719.5,57.3 L720.8,57.4 L722.1,57.5 L723.3,57.6 L724.6,57.7 L725.9,57.8 L727.2,57.9 L728.5,58.1 L729.8,58.2 L731.0,58.3 L732.3,58.4 L733.6,58.5 L734.9,58.6 L736.2,58.7 L737.4,58.9 L738.7,59.0 L740.0,59.1 L741.3,59.2 L742.6,59.3 L743.8,59.5 L745.1,59.6 L746.4,59.7 L747.7,59.9 L749.0,60.0 L750.2,60.1 L751.5,60.3 L752.8,60.4 L754.1,60.6 L755.4,60.7 L756.7,60.9 L757.9,61.0 L759.2,61.2 L760.5,61.3 L761.8,61.5 L763.1,61.7 L764.3,61.8 L765.6,62.0 L766.9,62.2 L768.2,62.4 L769.5,62.6 L770.8,62.8 L772.0,63.0 L773.3,63.2 L774.6,63.4 L775.9,63.6 L777.2,63.8 L778.4,64.0 L779.7,64.3 L781.0,64.5 L782.3,64.7 L783.6,65.0 L784.8,65.2 L786.1,65.5 L787.4,65.7 L788.7,65.9 L790.0,66.1 L791.2,66.4 L792.5,66.5 L793.8,66.7 L795.1,66.8 L796.4,66.9 L797.7,67.1 L798.9,67.2 L800.2,67.3 L801.5,67.5 L802.8,67.7 L804.1,68.0 L805.3,68.3 L806.6,68.5 L807.9,68.9 L809.2,69.2 L810.5,69.5 L811.8,69.8 L813.0,70.1 L814.3,70.5 L815.6,70.8 L816.9,71.2 L818.2,71.6 L819.4,72.0 L820.7,72.4 L822.0,72.8 L823.3,73.2 L824.6,73.6 L825.8,74.0 L827.1,74.4 L828.4,74.8 L829.7,75.2 L831.0,75.6 L832.2,76.0 L833.5,76.4 L834.8,76.8 L836.1,77.3 L837.4,77.7 L838.7,78.1 L839.9,78.6 L841.2,79.0 L842.5,79.4 L843.8,79.9 L845.1,80.4 L846.3,80.8 L847.6,81.3 L848.9,81.8 L850.2,82.3 L851.5,82.8 L852.8,83.4 L854.0,84.0 L855.3,84.5 L856.6,85.1 L857.9,85.7 L859.2,86.3 L860.4,87.0 L861.7,87.6 L863.0,88.3 L864.3,89.0 L865.6,89.7 L866.8,90.4 L868.1,91.1 L869.4,91.8 L870.7,92.6 L872.0,93.5 L873.2,94.3 L874.5,95.3 L875.8,96.4 L877.1,97.6 L878.4,98.9 L879.7,100.3 L880.9,101.6 L882.2,102.9 L883.5,104.2 L884.8,105.5 L886.1,106.7 L887.3,107.9 L888.6,109.1 L889.9,110.2 L891.2,111.3 L892.5,112.4 L893.8,113.5 L895.0,114.6 L896.3,115.7 L897.6,116.9 L898.9,118.2 L900.2,119.6 L901.4,121.1 L902.7,122.8 L904.0,124.5 L905.3,126.3 L906.6,128.1 L907.8,129.8 L909.1,131.6 L910.4,133.4 L911.7,135.6 L913.0,138.2 L914.2,141.2 L915.5,143.8 L916.8,146.2 L918.1,148.6 L919.4,150.9 L920.7,153.2 L921.9,155.5 L923.2,157.8 L924.5,160.2 L925.8,162.7 L927.1,165.1 L928.3,167.6 L929.6,170.1 L930.9,172.5 L932.2,174.9 L933.5,177.2 L934.8,179.4 L936.0,181.5 L937.3,183.6 L938.6,185.7 L939.9,187.8 L941.2,190.0 L942.4,192.2 L943.7,194.5 L945.0,196.8 L946.3,199.3 L947.6,201.7 L948.8,204.1 L950.1,206.5 L951.4,208.9 L952.7,211.3 L954.0,213.8 L955.2,216.2 L956.5,218.6 L957.8,220.9 L959.1,223.2 L960.4,225.3 L961.7,227.4 L962.9,229.7 L964.2,232.5 L965.5,235.6 L966.8,238.7 L968.1,241.3 L969.3,243.4 L970.6,245.5 L971.9,247.7 L973.2,250.4 L974.5,253.7 L975.8,257.1 L977.0,260.3 L978.3,263.0 L979.6,265.1 L980.9,267.0 L982.2,268.8 L983.4,270.9 L984.7,273.4 L986.0,276.1 L987.3,278.9 L988.6,281.9 L989.8,284.8 L991.1,287.7 L992.4,290.6 L993.7,293.5 L995.0,296.2 L996.2,298.7 L997.5,301.1 L998.8,303.4 L1000.1,305.6 L1001.4,307.8 L1002.7,309.9 L1003.9,312.0 L1005.2,314.1 L1006.5,316.1 L1007.8,318.1 L1009.1,320.0 L1010.3,321.9 L1011.6,323.8 L1012.9,325.6 L1014.2,327.3 L1015.5,329.0 L1016.8,330.6 L1018.0,332.1 L1019.3,333.5 L1020.6,334.9 L1021.9,336.3 L1023.2,337.6 L1024.4,338.9 L1025.7,340.2 L1027.0,341.5 L1028.3,342.8 L1029.6,344.0 L1030.8,345.2 L1032.1,346.4 L1033.4,347.6 L1034.7,348.8 L1036.0,349.9 L1037.2,351.1 L1038.5,352.3 L1039.8,353.4 L1041.1,354.7 L1042.4,355.9 L1043.7,357.1 L1044.9,358.4 L1046.2,359.6 L1047.5,360.9 L1048.8,362.1 L1050.1,363.4 L1051.3,364.6 L1052.6,365.9 L1053.9,367.2 L1055.2,368.4 L1056.5,369.7 L1057.8,371.0 L1059.0,372.3 L1060.3,373.7 L1061.6,375.1 L1062.9,376.4 L1064.2,377.9 L1065.4,379.3 L1066.7,380.8 L1068.0,382.3 L1069.3,383.9 L1070.6,385.5 L1071.8,387.3 L1073.1,389.2 L1074.4,391.1 L1075.7,392.9 L1077.0,394.5 L1078.2,396.0 L1079.5,397.5 L1080.8,399.0 L1082.1,400.4 L1083.4,401.7 L1084.7,403.1 L1085.9,404.4 L1087.2,405.7" stroke="#7F7F7F" stroke-width="2.15"/>
<path d="M596.5,53.6 L597.8,53.6 L599.1,53.6 L600.3,53.6 L601.6,53.6 L602.9,53.6 L604.2,53.7 L605.5,53.7 L606.8,53.7 L608.0,53.7 L609.3,53.7 L610.6,53.7 L611.9,53.7 L613.2,53.7 L614.4,53.8 L615.7,53.8 L617.0,53.8 L618.3,53.8 L619.6,53.8 L620.8,53.9 L622.1,53.9 L623.4,53.9 L624.7,53.9 L626.0,53.9 L627.2,54.0 L628.5,54.0 L629.8,54.0 L631.1,54.0 L632.4,54.0 L633.7,54.1 L634.9,54.1 L636.2,54.1 L637.5,54.1 L638.8,54.2 L640.1,54.2 L641.3,54.2 L642.6,54.2 L643.9,54.3 L645.2,54.3 L646.5,54.3 L647.8,54.3 L649.0,54.4 L650.3,54.4 L651.6,54.4 L652.9,54.4 L654.2,54.5 L655.4,54.5 L656.7,54.5 L658.0,54.5 L659.3,54.6 L660.6,54.6 L661.8,54.6 L663.1,54.6 L664.4,54.7 L665.7,54.7 L667.0,54.7 L668.2,54.7 L669.5,54.8 L670.8,54.8 L672.1,54.8 L673.4,54.8 L674.7,54.9 L675.9,54.9 L677.2,54.9 L678.5,55.0 L679.8,55.0 L681.1,55.0 L682.3,55.1 L683.6,55.1 L684.9,55.1 L686.2,55.1 L687.5,55.2 L688.8,55.2 L690.0,55.3 L691.3,55.3 L692.6,55.3 L693.9,55.4 L695.2,55.4 L696.4,55.5 L697.7,55.5 L699.0,55.6 L700.3,55.6 L701.6,55.7 L702.8,55.7 L704.1,55.8 L705.4,55.9 L706.7,55.9 L708.0,56.0 L709.2,56.1 L710.5,56.2 L711.8,56.3 L713.1,56.4 L714.4,56.5 L715.7,56.6 L716.9,56.7 L718.2,56.8 L719.5,56.9 L720.8,57.0 L722.1,57.2 L723.3,57.3 L724.6,57.4 L725.9,57.5 L727.2,57.6 L728.5,57.7 L729.8,57.9 L731.0,58.0 L732.3,58.1 L733.6,58.2 L734.9,58.3 L736.2,58.5 L737.4,58.6 L738.7,58.7 L740.0,58.8 L741.3,59.0 L742.6,59.1 L743.8,59.2 L745.1,59.4 L746.4,59.5 L747.7,59.6 L749.0,59.8 L750.2,59.9 L751.5,60.1 L752.8,60.2 L754.1,60.4 L755.4,60.5 L756.7,60.7 L757.9,60.9 L759.2,61.0 L760.5,61.2 L761.8,61.4 L763.1,61.6 L764.3,61.8 L765.6,62.0 L766.9,62.2 L768.2,62.4 L769.5,62.6 L770.8,62.8 L772.0,63.1 L773.3,63.3 L774.6,63.6 L775.9,63.8 L777.2,64.0 L778.4,64.2 L779.7,64.5 L781.0,64.7 L782.3,64.9 L783.6,65.2 L784.8,65.4 L786.1,65.6 L787.4,65.9 L788.7,66.1 L790.0,66.3 L791.2,66.5 L792.5,66.7 L793.8,66.9 L795.1,67.1 L796.4,67.2 L797.7,67.4 L798.9,67.5 L800.2,67.7 L801.5,68.0 L802.8,68.3 L804.1,68.6 L805.3,69.0 L806.6,69.3 L807.9,69.7 L809.2,70.1 L810.5,70.6 L811.8,71.0 L813.0,71.4 L814.3,71.8 L815.6,72.2 L816.9,72.6 L818.2,73.1 L819.4,73.5 L820.7,74.0 L822.0,74.5 L823.3,75.0 L824.6,75.5 L825.8,76.0 L827.1,76.5 L828.4,77.1 L829.7,77.6 L831.0,78.2 L832.2,78.8 L833.5,79.4 L834.8,80.0 L836.1,80.6 L837.4,81.2 L838.7,81.8 L839.9,82.4 L841.2,83.0 L842.5,83.6 L843.8,84.3 L845.1,84.9 L846.3,85.5 L847.6,86.2 L848.9,86.9 L850.2,87.6 L851.5,88.3 L852.8,89.0 L854.0,89.7 L855.3,90.4 L856.6,91.2 L857.9,92.0 L859.2,92.8 L860.4,93.6 L861.7,94.4 L863.0,95.3 L864.3,96.2 L865.6,97.2 L866.8,98.2 L868.1,99.2 L869.4,100.2 L870.7,101.3 L872.0,102.4 L873.2,103.5 L874.5,104.7 L875.8,105.8 L877.1,107.1 L878.4,108.4 L879.7,109.7 L880.9,111.0 L882.2,112.0 L883.5,113.0 L884.8,114.0 L886.1,115.0 L887.3,116.1 L888.6,117.3 L889.9,118.6 L891.2,119.9 L892.5,121.3 L893.8,122.7 L895.0,124.1 L896.3,125.6 L897.6,127.1 L898.9,128.7 L900.2,130.2 L901.4,131.8 L902.7,133.5 L904.0,135.2 L905.3,137.0 L906.6,138.8 L907.8,140.7 L909.1,142.6 L910.4,144.6 L911.7,146.7 L913.0,148.8 L914.2,150.9 L915.5,153.1 L916.8,155.2 L918.1,157.4 L919.4,159.6 L920.7,161.8 L921.9,164.1 L923.2,166.3 L924.5,168.6 L925.8,170.9 L927.1,173.1 L928.3,175.3 L929.6,177.5 L930.9,179.7 L932.2,181.9 L933.5,184.1 L934.8,186.3 L936.0,188.5 L937.3,190.7 L938.6,192.8 L939.9,195.0 L941.2,197.1 L942.4,199.3 L943.7,201.5 L945.0,203.8 L946.3,206.1 L947.6,208.3 L948.8,210.6 L950.1,213.0 L951.4,215.4 L952.7,217.9 L954.0,220.6 L955.2,223.4 L956.5,226.4 L957.8,229.4 L959.1,232.2 L960.4,235.1 L961.7,238.0 L962.9,240.9 L964.2,243.6 L965.5,246.2 L966.8,248.7 L968.1,251.0 L969.3,253.4 L970.6,255.6 L971.9,257.9 L973.2,260.3 L974.5,262.6 L975.8,265.0 L977.0,267.4 L978.3,269.8 L979.6,272.2 L980.9,274.6 L982.2,277.0 L983.4,279.3 L984.7,281.6 L986.0,283.9 L987.3,286.1 L988.6,288.4 L989.8,290.6 L991.1,292.8 L992.4,294.9 L993.7,297.0 L995.0,299.0 L996.2,301.1 L997.5,303.5 L998.8,305.9 L1000.1,308.3 L1001.4,310.6 L1002.7,312.7 L1003.9,314.8 L1005.2,316.7 L1006.5,318.6 L1007.8,320.4 L1009.1,322.1 L1010.3,323.8 L1011.6,325.4 L1012.9,327.0 L1014.2,328.6 L1015.5,330.1 L1016.8,331.6 L1018.0,333.0 L1019.3,334.3 L1020.6,335.6 L1021.9,336.7 L1023.2,337.8 L1024.4,338.8 L1025.7,339.9 L1027.0,340.9 L1028.3,342.0 L1029.6,343.2 L1030.8,344.4 L1032.1,345.7 L1033.4,346.9 L1034.7,348.2 L1036.0,349.6 L1037.2,350.9 L1038.5,352.2 L1039.8,353.5 L1041.1,354.9 L1042.4,356.2 L1043.7,357.5 L1044.9,358.7 L1046.2,360.0 L1047.5,361.3 L1048.8,362.6 L1050.1,363.8 L1051.3,365.1 L1052.6,366.4 L1053.9,367.6 L1055.2,368.9 L1056.5,370.2 L1057.8,371.4 L1059.0,372.7 L1060.3,373.9 L1061.6,375.1 L1062.9,376.3 L1064.2,377.5 L1065.4,378.7 L1066.7,379.9 L1068.0,381.2 L1069.3,382.6 L1070.6,384.0 L1071.8,385.6 L1073.1,387.4 L1074.4,389.4 L1075.7,391.3 L1077.0,393.0 L1078.2,394.6 L1079.5,396.1 L1080.8,397.6 L1082.1,399.0 L1083.4,400.4 L1084.7,401.7 L1085.9,403.0 L1087.2,404.4" stroke="#70AD47" stroke-width="2.15"/>
<path d="M596.5,53.0 L597.8,53.0 L599.1,53.0 L600.3,53.0 L601.6,53.0 L602.9,53.0 L604.2,53.0 L605.5,53.0 L606.8,53.1 L608.0,53.1 L609.3,53.1 L610.6,53.1 L611.9,53.1 L613.2,53.1 L614.4,53.1 L615.7,53.1 L617.0,53.1 L618.3,53.2 L619.6,53.2 L620.8,53.2 L622.1,53.2 L623.4,53.2 L624.7,53.2 L626.0,53.2 L627.2,53.3 L628.5,53.3 L629.8,53.3 L631.1,53.3 L632.4,53.3 L633.7,53.3 L634.9,53.4 L636.2,53.4 L637.5,53.4 L638.8,53.4 L640.1,53.4 L641.3,53.5 L642.6,53.5 L643.9,53.5 L645.2,53.5 L646.5,53.5 L647.8,53.6 L649.0,53.6 L650.3,53.6 L651.6,53.6 L652.9,53.7 L654.2,53.7 L655.4,53.7 L656.7,53.7 L658.0,53.7 L659.3,53.8 L660.6,53.8 L661.8,53.8 L663.1,53.8 L664.4,53.9 L665.7,53.9 L667.0,53.9 L668.2,53.9 L669.5,54.0 L670.8,54.0 L672.1,54.0 L673.4,54.1 L674.7,54.1 L675.9,54.1 L677.2,54.2 L678.5,54.2 L679.8,54.2 L681.1,54.3 L682.3,54.3 L683.6,54.4 L684.9,54.4 L686.2,54.5 L687.5,54.5 L688.8,54.5 L690.0,54.6 L691.3,54.6 L692.6,54.7 L693.9,54.7 L695.2,54.8 L696.4,54.8 L697.7,54.9 L699.0,55.0 L700.3,55.0 L701.6,55.1 L702.8,55.1 L704.1,55.2 L705.4,55.3 L706.7,55.4 L708.0,55.4 L709.2,55.5 L710.5,55.6 L711.8,55.7 L713.1,55.8 L714.4,55.9 L715.7,56.0 L716.9,56.1 L718.2,56.2 L719.5,56.4 L720.8,56.5 L722.1,56.6 L723.3,56.7 L724.6,56.8 L725.9,57.0 L727.2,57.1 L728.5,57.2 L729.8,57.3 L731.0,57.5 L732.3,57.6 L733.6,57.7 L734.9,57.9 L736.2,58.0 L737.4,58.2 L738.7,58.3 L740.0,58.5 L741.3,58.6 L742.6,58.8 L743.8,59.0 L745.1,59.1 L746.4,59.3 L747.7,59.5 L749.0,59.7 L750.2,59.9 L751.5,60.1 L752.8,60.3 L754.1,60.5 L755.4,60.7 L756.7,60.9 L757.9,61.1 L759.2,61.3 L760.5,61.5 L761.8,61.8 L763.1,62.0 L764.3,62.2 L765.6,62.5 L766.9,62.8 L768.2,63.0 L769.5,63.3 L770.8,63.6 L772.0,64.0 L773.3,64.3 L774.6,64.6 L775.9,64.9 L777.2,65.2 L778.4,65.6 L779.7,65.9 L781.0,66.2 L782.3,66.5 L783.6,66.9 L784.8,67.2 L786.1,67.5 L787.4,67.9 L788.7,68.2 L790.0,68.6 L791.2,68.9 L792.5,69.3 L793.8,69.7 L795.1,70.1 L796.4,70.5 L797.7,71.0 L798.9,71.4 L800.2,71.9 L801.5,72.4 L802.8,72.8 L804.1,73.3 L805.3,73.8 L806.6,74.4 L807.9,74.9 L809.2,75.4 L810.5,75.9 L811.8,76.5 L813.0,77.0 L814.3,77.6 L815.6,78.2 L816.9,78.7 L818.2,79.3 L819.4,79.9 L820.7,80.5 L822.0,81.1 L823.3,81.7 L824.6,82.2 L825.8,82.8 L827.1,83.4 L828.4,83.9 L829.7,84.5 L831.0,85.0 L832.2,85.6 L833.5,86.1 L834.8,86.7 L836.1,87.3 L837.4,88.0 L838.7,88.7 L839.9,89.4 L841.2,90.1 L842.5,90.8 L843.8,91.6 L845.1,92.4 L846.3,93.2 L847.6,94.0 L848.9,94.8 L850.2,95.7 L851.5,96.6 L852.8,97.5 L854.0,98.4 L855.3,99.4 L856.6,100.4 L857.9,101.4 L859.2,102.4 L860.4,103.4 L861.7,104.4 L863.0,105.4 L864.3,106.3 L865.6,107.3 L866.8,108.3 L868.1,109.3 L869.4,110.3 L870.7,111.2 L872.0,112.2 L873.2,113.0 L874.5,113.8 L875.8,114.6 L877.1,115.4 L878.4,116.3 L879.7,117.3 L880.9,118.5 L882.2,119.9 L883.5,121.4 L884.8,123.0 L886.1,124.6 L887.3,126.2 L888.6,127.6 L889.9,129.1 L891.2,130.5 L892.5,132.0 L893.8,133.5 L895.0,135.1 L896.3,136.8 L897.6,138.5 L898.9,140.2 L900.2,142.0 L901.4,143.8 L902.7,145.7 L904.0,147.5 L905.3,149.4 L906.6,151.2 L907.8,153.1 L909.1,155.0 L910.4,157.0 L911.7,158.9 L913.0,160.9 L914.2,162.8 L915.5,164.8 L916.8,166.8 L918.1,168.8 L919.4,170.8 L920.7,172.8 L921.9,174.8 L923.2,176.8 L924.5,178.8 L925.8,180.8 L927.1,182.8 L928.3,184.9 L929.6,186.9 L930.9,189.1 L932.2,191.2 L933.5,193.4 L934.8,195.7 L936.0,197.9 L937.3,200.2 L938.6,202.4 L939.9,204.6 L941.2,206.8 L942.4,208.9 L943.7,211.1 L945.0,213.3 L946.3,215.6 L947.6,217.9 L948.8,220.3 L950.1,222.8 L951.4,225.4 L952.7,228.0 L954.0,230.5 L955.2,232.9 L956.5,235.2 L957.8,237.5 L959.1,239.8 L960.4,242.0 L961.7,243.8 L962.9,245.7 L964.2,248.2 L965.5,253.4 L966.8,258.9 L968.1,261.6 L969.3,263.5 L970.6,265.0 L971.9,266.7 L973.2,268.6 L974.5,270.5 L975.8,272.4 L977.0,274.2 L978.3,276.1 L979.6,278.1 L980.9,280.2 L982.2,282.4 L983.4,284.6 L984.7,286.8 L986.0,289.1 L987.3,291.4 L988.6,293.5 L989.8,295.6 L991.1,297.7 L992.4,299.8 L993.7,302.1 L995.0,304.5 L996.2,307.0 L997.5,309.3 L998.8,311.4 L1000.1,313.3 L1001.4,315.1 L1002.7,316.8 L1003.9,318.4 L1005.2,320.0 L1006.5,321.6 L1007.8,323.1 L1009.1,324.7 L1010.3,326.1 L1011.6,327.6 L1012.9,329.0 L1014.2,330.4 L1015.5,331.8 L1016.8,333.1 L1018.0,334.4 L1019.3,335.6 L1020.6,336.9 L1021.9,338.2 L1023.2,339.5 L1024.4,340.9 L1025.7,342.4 L1027.0,343.9 L1028.3,345.3 L1029.6,346.8 L1030.8,348.2 L1032.1,349.6 L1033.4,350.9 L1034.7,352.2 L1036.0,353.5 L1037.2,354.8 L1038.5,356.1 L1039.8,357.4 L1041.1,358.6 L1042.4,359.9 L1043.7,361.2 L1044.9,362.4 L1046.2,363.7 L1047.5,365.0 L1048.8,366.2 L1050.1,367.4 L1051.3,368.7 L1052.6,369.9 L1053.9,371.2 L1055.2,372.5 L1056.5,373.8 L1057.8,375.2 L1059.0,376.6 L1060.3,378.1 L1061.6,379.6 L1062.9,381.1 L1064.2,382.6 L1065.4,384.0 L1066.7,385.4 L1068.0,386.7 L1069.3,388.0 L1070.6,389.2 L1071.8,390.4 L1073.1,391.6 L1074.4,392.9 L1075.7,394.2 L1077.0,395.5 L1078.2,396.8 L1079.5,398.1 L1080.8,399.5 L1082.1,400.8 L1083.4,402.1 L1084.7,403.5 L1085.9,404.9 L1087.2,406.2" stroke="#7030A0" stroke-width="2.15"/>
<path d="M596.5,52.4 L597.8,52.4 L599.1,52.4 L600.3,52.4 L601.6,52.4 L602.9,52.4 L604.2,52.4 L605.5,52.4 L606.8,52.4 L608.0,52.4 L609.3,52.4 L610.6,52.4 L611.9,52.5 L613.2,52.5 L614.4,52.5 L615.7,52.5 L617.0,52.5 L618.3,52.5 L619.6,52.5 L620.8,52.5 L622.1,52.5 L623.4,52.5 L624.7,52.5 L626.0,52.6 L627.2,52.6 L628.5,52.6 L629.8,52.6 L631.1,52.6 L632.4,52.6 L633.7,52.6 L634.9,52.6 L636.2,52.7 L637.5,52.7 L638.8,52.7 L640.1,52.7 L641.3,52.7 L642.6,52.7 L643.9,52.8 L645.2,52.8 L646.5,52.8 L647.8,52.8 L649.0,52.8 L650.3,52.8 L651.6,52.9 L652.9,52.9 L654.2,52.9 L655.4,52.9 L656.7,52.9 L658.0,53.0 L659.3,53.0 L660.6,53.0 L661.8,53.0 L663.1,53.0 L664.4,53.1 L665.7,53.1 L667.0,53.1 L668.2,53.2 L669.5,53.2 L670.8,53.2 L672.1,53.3 L673.4,53.3 L674.7,53.4 L675.9,53.4 L677.2,53.4 L678.5,53.5 L679.8,53.5 L681.1,53.6 L682.3,53.6 L683.6,53.7 L684.9,53.8 L686.2,53.8 L687.5,53.9 L688.8,53.9 L690.0,54.0 L691.3,54.1 L692.6,54.1 L693.9,54.2 L695.2,54.2 L696.4,54.3 L697.7,54.4 L699.0,54.4 L700.3,54.5 L701.6,54.6 L702.8,54.7 L704.1,54.7 L705.4,54.8 L706.7,54.9 L708.0,55.0 L709.2,55.1 L710.5,55.2 L711.8,55.3 L713.1,55.4 L714.4,55.5 L715.7,55.6 L716.9,55.7 L718.2,55.8 L719.5,55.9 L720.8,56.0 L722.1,56.1 L723.3,56.2 L724.6,56.4 L725.9,56.5 L727.2,56.6 L728.5,56.7 L729.8,56.8 L731.0,57.0 L732.3,57.1 L733.6,57.2 L734.9,57.4 L736.2,57.5 L737.4,57.7 L738.7,57.8 L740.0,58.0 L741.3,58.1 L742.6,58.3 L743.8,58.5 L745.1,58.6 L746.4,58.8 L747.7,59.0 L749.0,59.1 L750.2,59.3 L751.5,59.5 L752.8,59.7 L754.1,59.9 L755.4,60.1 L756.7,60.3 L757.9,60.5 L759.2,60.7 L760.5,60.9 L761.8,61.1 L763.1,61.3 L764.3,61.5 L765.6,61.7 L766.9,61.9 L768.2,62.2 L769.5,62.4 L770.8,62.6 L772.0,62.9 L773.3,63.1 L774.6,63.4 L775.9,63.6 L777.2,63.9 L778.4,64.1 L779.7,64.4 L781.0,64.7 L782.3,64.9 L783.6,65.2 L784.8,65.5 L786.1,65.8 L787.4,66.0 L788.7,66.3 L790.0,66.6 L791.2,66.9 L792.5,67.1 L793.8,67.4 L795.1,67.7 L796.4,68.0 L797.7,68.2 L798.9,68.5 L800.2,68.9 L801.5,69.2 L802.8,69.5 L804.1,69.9 L805.3,70.3 L806.6,70.7 L807.9,71.1 L809.2,71.4 L810.5,71.9 L811.8,72.3 L813.0,72.7 L814.3,73.1 L815.6,73.5 L816.9,73.9 L818.2,74.4 L819.4,74.8 L820.7,75.2 L822.0,75.7 L823.3,76.2 L824.6,76.7 L825.8,77.2 L827.1,77.7 L828.4,78.2 L829.7,78.7 L831.0,79.3 L832.2,79.9 L833.5,80.5 L834.8,81.1 L836.1,81.7 L837.4,82.4 L838.7,83.1 L839.9,83.8 L841.2,84.6 L842.5,85.4 L843.8,86.2 L845.1,87.1 L846.3,88.0 L847.6,88.9 L848.9,89.8 L850.2,90.7 L851.5,91.7 L852.8,92.7 L854.0,93.8 L855.3,94.9 L856.6,96.0 L857.9,97.1 L859.2,98.3 L860.4,99.4 L861.7,100.5 L863.0,101.6 L864.3,102.7 L865.6,103.8 L866.8,104.9 L868.1,106.0 L869.4,107.1 L870.7,108.2 L872.0,109.3 L873.2,110.4 L874.5,111.5 L875.8,112.6 L877.1,113.6 L878.4,114.7 L879.7,116.0 L880.9,117.4 L882.2,118.9 L883.5,120.7 L884.8,122.5 L886.1,124.3 L887.3,126.2 L888.6,128.1 L889.9,130.1 L891.2,132.1 L892.5,134.2 L893.8,136.3 L895.0,138.3 L896.3,140.3 L897.6,142.3 L898.9,144.3 L900.2,146.2 L901.4,148.2 L902.7,150.2 L904.0,152.2 L905.3,154.3 L906.6,156.4 L907.8,158.4 L909.1,160.5 L910.4,162.7 L911.7,164.9 L913.0,167.3 L914.2,169.8 L915.5,172.8 L916.8,175.9 L918.1,179.2 L919.4,182.3 L920.7,185.1 L921.9,187.5 L923.2,189.7 L924.5,191.7 L925.8,193.6 L927.1,195.5 L928.3,197.4 L929.6,199.4 L930.9,201.6 L932.2,203.9 L933.5,206.3 L934.8,208.7 L936.0,211.1 L937.3,213.4 L938.6,215.8 L939.9,218.3 L941.2,220.7 L942.4,223.1 L943.7,225.4 L945.0,227.5 L946.3,229.2 L947.6,231.5 L948.8,234.4 L950.1,237.8 L951.4,241.1 L952.7,244.1 L954.0,246.8 L955.2,249.5 L956.5,252.0 L957.8,254.5 L959.1,257.0 L960.4,259.4 L961.7,261.7 L962.9,264.1 L964.2,266.4 L965.5,268.7 L966.8,270.9 L968.1,273.1 L969.3,275.3 L970.6,277.5 L971.9,279.7 L973.2,281.9 L974.5,284.1 L975.8,286.4 L977.0,288.8 L978.3,291.3 L979.6,293.8 L980.9,296.2 L982.2,298.6 L983.4,300.8 L984.7,303.0 L986.0,305.0 L987.3,307.0 L988.6,309.0 L989.8,311.0 L991.1,313.0 L992.4,315.0 L993.7,317.0 L995.0,318.9 L996.2,320.8 L997.5,322.5 L998.8,324.2 L1000.1,325.7 L1001.4,327.2 L1002.7,328.7 L1003.9,330.1 L1005.2,331.4 L1006.5,332.8 L1007.8,334.1 L1009.1,335.4 L1010.3,336.7 L1011.6,337.9 L1012.9,339.2 L1014.2,340.3 L1015.5,341.5 L1016.8,342.7 L1018.0,343.8 L1019.3,344.9 L1020.6,345.9 L1021.9,347.0 L1023.2,348.0 L1024.4,349.0 L1025.7,350.0 L1027.0,350.9 L1028.3,351.8 L1029.6,352.8 L1030.8,353.7 L1032.1,354.7 L1033.4,355.7 L1034.7,356.6 L1036.0,357.5 L1037.2,358.4 L1038.5,359.3 L1039.8,360.2 L1041.1,361.3 L1042.4,362.4 L1043.7,363.6 L1044.9,364.9 L1046.2,366.8 L1047.5,368.7 L1048.8,370.2 L1050.1,371.6 L1051.3,372.8 L1052.6,374.0 L1053.9,375.2 L1055.2,376.4 L1056.5,377.7 L1057.8,378.9 L1059.0,380.0 L1060.3,381.2 L1061.6,382.4 L1062.9,383.8 L1064.2,385.3 L1065.4,387.4 L1066.7,389.9 L1068.0,392.3 L1069.3,394.4 L1070.6,396.1 L1071.8,397.8 L1073.1,399.3 L1074.4,400.8 L1075.7,402.2 L1077.0,403.6 L1078.2,404.9 L1079.5,406.2 L1080.8,407.5 L1082.1,408.7 L1083.4,409.9 L1084.7,411.1 L1085.9,412.3 L1087.2,413.6" stroke="#FFC000" stroke-width="2.15"/>
<path d="M596.5,52.0 L597.8,52.0 L599.1,52.0 L600.3,52.0 L601.6,52.0 L602.9,52.0 L604.2,52.0 L605.5,52.0 L606.8,52.0 L608.0,52.0 L609.3,52.0 L610.6,52.0 L611.9,52.0 L613.2,52.0 L614.4,52.0 L615.7,52.0 L617.0,52.0 L618.3,52.0 L619.6,52.0 L620.8,52.0 L622.1,52.1 L623.4,52.1 L624.7,52.1 L626.0,52.1 L627.2,52.1 L628.5,52.1 L629.8,52.1 L631.1,52.1 L632.4,52.1 L633.7,52.1 L634.9,52.1 L636.2,52.1 L637.5,52.1 L638.8,52.1 L640.1,52.1 L641.3,52.2 L642.6,52.2 L643.9,52.2 L645.2,52.2 L646.5,52.2 L647.8,52.2 L649.0,52.2 L650.3,52.2 L651.6,52.2 L652.9,52.2 L654.2,52.2 L655.4,52.3 L656.7,52.3 L658.0,52.3 L659.3,52.3 L660.6,52.3 L661.8,52.3 L663.1,52.3 L664.4,52.3 L665.7,52.4 L667.0,52.4 L668.2,52.4 L669.5,52.4 L670.8,52.5 L672.1,52.5 L673.4,52.5 L674.7,52.6 L675.9,52.6 L677.2,52.6 L678.5,52.7 L679.8,52.7 L681.1,52.8 L682.3,52.8 L683.6,52.9 L684.9,52.9 L686.2,53.0 L687.5,53.0 L688.8,53.1 L690.0,53.1 L691.3,53.2 L692.6,53.3 L693.9,53.3 L695.2,53.4 L696.4,53.4 L697.7,53.5 L699.0,53.6 L700.3,53.6 L701.6,53.7 L702.8,53.8 L704.1,53.8 L705.4,53.9 L706.7,54.0 L708.0,54.1 L709.2,54.2 L710.5,54.3 L711.8,54.4 L713.1,54.5 L714.4,54.6 L715.7,54.7 L716.9,54.8 L718.2,54.9 L719.5,55.0 L720.8,55.1 L722.1,55.2 L723.3,55.3 L724.6,55.5 L725.9,55.6 L727.2,55.7 L728.5,55.8 L729.8,55.9 L731.0,56.1 L732.3,56.2 L733.6,56.4 L734.9,56.5 L736.2,56.7 L737.4,56.8 L738.7,57.0 L740.0,57.1 L741.3,57.3 L742.6,57.5 L743.8,57.7 L745.1,57.8 L746.4,58.0 L747.7,58.2 L749.0,58.4 L750.2,58.6 L751.5,58.8 L752.8,59.0 L754.1,59.2 L755.4,59.4 L756.7,59.6 L757.9,59.8 L759.2,60.0 L760.5,60.2 L761.8,60.5 L763.1,60.7 L764.3,60.9 L765.6,61.2 L766.9,61.5 L768.2,61.7 L769.5,62.0 L770.8,62.3 L772.0,62.6 L773.3,62.9 L774.6,63.2 L775.9,63.5 L777.2,63.8 L778.4,64.1 L779.7,64.3 L781.0,64.6 L782.3,64.9 L783.6,65.2 L784.8,65.4 L786.1,65.7 L787.4,66.0 L788.7,66.3 L790.0,66.6 L791.2,66.9 L792.5,67.3 L793.8,67.6 L795.1,68.0 L796.4,68.4 L797.7,68.9 L798.9,69.3 L800.2,69.8 L801.5,70.2 L802.8,70.7 L804.1,71.1 L805.3,71.6 L806.6,72.1 L807.9,72.5 L809.2,73.0 L810.5,73.5 L811.8,74.0 L813.0,74.5 L814.3,75.1 L815.6,75.6 L816.9,76.2 L818.2,76.7 L819.4,77.3 L820.7,77.9 L822.0,78.5 L823.3,79.1 L824.6,79.7 L825.8,80.4 L827.1,81.0 L828.4,81.6 L829.7,82.2 L831.0,82.8 L832.2,83.5 L833.5,84.1 L834.8,84.8 L836.1,85.5 L837.4,86.2 L838.7,86.9 L839.9,87.6 L841.2,88.3 L842.5,89.1 L843.8,89.8 L845.1,90.6 L846.3,91.4 L847.6,92.2 L848.9,93.0 L850.2,93.9 L851.5,94.8 L852.8,95.7 L854.0,96.6 L855.3,97.5 L856.6,98.5 L857.9,99.5 L859.2,100.4 L860.4,101.4 L861.7,102.5 L863.0,103.5 L864.3,104.5 L865.6,105.6 L866.8,106.7 L868.1,107.8 L869.4,108.9 L870.7,110.0 L872.0,111.1 L873.2,112.2 L874.5,113.4 L875.8,114.5 L877.1,115.5 L878.4,116.6 L879.7,117.9 L880.9,119.2 L882.2,120.8 L883.5,122.4 L884.8,124.1 L886.1,125.8 L887.3,127.4 L888.6,128.9 L889.9,130.3 L891.2,131.8 L892.5,133.2 L893.8,134.8 L895.0,136.4 L896.3,138.2 L897.6,140.1 L898.9,142.1 L900.2,144.1 L901.4,146.2 L902.7,148.3 L904.0,150.5 L905.3,152.6 L906.6,154.8 L907.8,157.0 L909.1,159.2 L910.4,161.4 L911.7,163.7 L913.0,166.0 L914.2,168.3 L915.5,170.5 L916.8,172.7 L918.1,174.8 L919.4,176.9 L920.7,178.8 L921.9,180.8 L923.2,182.7 L924.5,184.7 L925.8,186.7 L927.1,188.8 L928.3,191.0 L929.6,193.1 L930.9,195.3 L932.2,197.6 L933.5,199.8 L934.8,202.1 L936.0,204.5 L937.3,206.8 L938.6,209.3 L939.9,211.7 L941.2,214.1 L942.4,216.6 L943.7,218.9 L945.0,221.3 L946.3,223.5 L947.6,225.7 L948.8,227.9 L950.1,230.2 L951.4,232.8 L952.7,235.4 L954.0,238.1 L955.2,240.7 L956.5,243.1 L957.8,245.1 L959.1,247.0 L960.4,248.9 L961.7,251.1 L962.9,253.7 L964.2,257.2 L965.5,260.8 L966.8,263.5 L968.1,265.6 L969.3,267.5 L970.6,269.2 L971.9,271.0 L973.2,272.9 L974.5,275.0 L975.8,277.3 L977.0,279.7 L978.3,282.1 L979.6,284.6 L980.9,287.0 L982.2,289.4 L983.4,291.8 L984.7,294.2 L986.0,296.6 L987.3,298.9 L988.6,301.2 L989.8,303.5 L991.1,305.7 L992.4,308.0 L993.7,310.2 L995.0,312.4 L996.2,314.4 L997.5,316.2 L998.8,317.9 L1000.1,319.5 L1001.4,321.0 L1002.7,322.4 L1003.9,323.8 L1005.2,325.2 L1006.5,326.5 L1007.8,327.9 L1009.1,329.2 L1010.3,330.5 L1011.6,331.8 L1012.9,333.0 L1014.2,334.2 L1015.5,335.4 L1016.8,336.6 L1018.0,337.7 L1019.3,338.7 L1020.6,339.8 L1021.9,340.9 L1023.2,341.9 L1024.4,343.0 L1025.7,344.1 L1027.0,345.2 L1028.3,346.4 L1029.6,347.5 L1030.8,348.6 L1032.1,349.7 L1033.4,350.8 L1034.7,352.0 L1036.0,353.1 L1037.2,354.3 L1038.5,355.4 L1039.8,356.6 L1041.1,357.7 L1042.4,358.9 L1043.7,360.1 L1044.9,361.3 L1046.2,362.5 L1047.5,363.7 L1048.8,365.0 L1050.1,366.2 L1051.3,367.5 L1052.6,368.8 L1053.9,370.1 L1055.2,371.4 L1056.5,372.7 L1057.8,374.0 L1059.0,375.2 L1060.3,376.5 L1061.6,377.8 L1062.9,379.1 L1064.2,380.3 L1065.4,381.6 L1066.7,382.9 L1068.0,384.2 L1069.3,385.5 L1070.6,386.8 L1071.8,388.1 L1073.1,389.4 L1074.4,390.7 L1075.7,392.1 L1077.0,393.4 L1078.2,394.7 L1079.5,396.1 L1080.8,397.4 L1082.1,398.8 L1083.4,400.1 L1084.7,401.4 L1085.9,402.8 L1087.2,404.1" stroke="#5B9BD5" stroke-width="2.15"/>
</g>
<g font-family="'Liberation Sans', sans-serif" font-size="14" fill="#000">
<text x="582.0" y="390.3" text-anchor="end" textLength="16.3" lengthAdjust="spacingAndGlyphs">40</text>
<text x="582.0" y="334.6" text-anchor="end" textLength="16.3" lengthAdjust="spacingAndGlyphs">50</text>
<text x="582.0" y="278.8" text-anchor="end" textLength="16.3" lengthAdjust="spacingAndGlyphs">60</text>
<text x="582.0" y="223.1" text-anchor="end" textLength="16.3" lengthAdjust="spacingAndGlyphs">70</text>
<text x="582.0" y="167.4" text-anchor="end" textLength="16.3" lengthAdjust="spacingAndGlyphs">80</text>
<text x="582.0" y="111.6" text-anchor="end" textLength="16.3" lengthAdjust="spacingAndGlyphs">90</text>
<text x="582.0" y="55.3" text-anchor="end" textLength="24.5" lengthAdjust="spacingAndGlyphs">100</text>
<text x="596.9" y="411.0" text-anchor="middle" textLength="24.8" lengthAdjust="spacingAndGlyphs">200</text>
<text x="853.2" y="411.0" text-anchor="middle" textLength="24.8" lengthAdjust="spacingAndGlyphs">300</text>
<text x="1109.1" y="411.0" text-anchor="middle" textLength="24.8" lengthAdjust="spacingAndGlyphs">400</text>
</g>
<polygon points="472.8,127.7 561.9,129.5 561.9,122.9 580.2,132.3 561.9,141.1 561.9,135.6 472.8,133.6" fill="#000"/>
<text x="577.9" y="791.6" text-anchor="middle" font-family="'Liberation Serif', serif" font-size="31" fill="#000">(<tspan font-weight="bold">a</tspan>)</text>
</svg>
</body></html>
